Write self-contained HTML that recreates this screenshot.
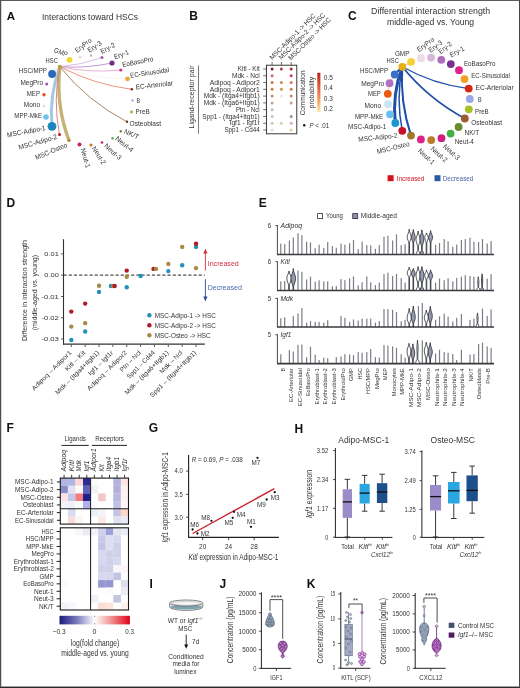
<!DOCTYPE html>
<html><head><meta charset="utf-8"><style>
html,body{margin:0;padding:0;background:#fff;}
svg{display:block;font-family:"Liberation Sans",sans-serif;will-change:transform;}
</style></head><body>
<svg width="520" height="688" viewBox="0 0 520 688">
<rect x="0" y="0" width="520" height="688" fill="#fff"/>
<g fill="#333">
<text x="6.80" y="20.00" font-size="11.5" fill="#111" font-weight="bold" class="t">A</text>
<text x="42.00" y="20.00" font-size="8.37" textLength="96.00" lengthAdjust="spacingAndGlyphs" class="t">Interactions toward HSCs</text>
<path d="M52.00,126.30 Q49.05,95.60 59.80,66.70" stroke="#a2c9e2" stroke-width="3.0" fill="none" stroke-opacity="1.0" stroke-linecap="butt"/>
<path d="M69.00,140.50 Q55.54,104.70 59.80,66.70" stroke="#c6b274" stroke-width="3.4" fill="none" stroke-opacity="1.0" stroke-linecap="butt"/>
<path d="M59.50,134.50 Q52.87,100.57 59.80,66.70" stroke="#de7474" stroke-width="0.9" fill="none" stroke-opacity="1.0" stroke-linecap="butt"/>
<path d="M102.00,57.50 Q81.54,65.05 59.80,66.70" stroke="#cfaede" stroke-width="0.8" fill="none" stroke-opacity="1.0" stroke-linecap="butt"/>
<path d="M112.00,63.00 Q86.16,68.50 59.80,66.70" stroke="#ba8ccc" stroke-width="0.9" fill="none" stroke-opacity="1.0" stroke-linecap="butt"/>
<path d="M120.80,70.00 Q90.04,73.23 59.80,66.70" stroke="#e49cc8" stroke-width="0.8" fill="none" stroke-opacity="1.0" stroke-linecap="butt"/>
<path d="M127.50,78.80 Q92.56,78.84 59.80,66.70" stroke="#f8e4d4" stroke-width="0.4" fill="none" stroke-opacity="1.0" stroke-linecap="butt"/>
<path d="M131.80,89.30 Q93.77,84.48 59.80,66.70" stroke="#e68a74" stroke-width="0.9" fill="none" stroke-opacity="1.0" stroke-linecap="butt"/>
<path d="M127.00,121.80 Q87.61,101.31 59.80,66.70" stroke="#9e7a5a" stroke-width="0.9" fill="none" stroke-opacity="1.0" stroke-linecap="butt"/>
<path d="M52.10,74.00 Q55.95,70.35 59.80,66.70" stroke="#b0c8e4" stroke-width="0.7" fill="none" stroke-opacity="1.0" stroke-linecap="butt"/>
<circle cx="59.80" cy="66.70" r="2.0" fill="#b5a040"/>
<circle cx="69.50" cy="59.80" r="2.9" fill="#f2d72a"/>
<circle cx="80.00" cy="57.00" r="1.6" fill="#ead8e6"/>
<circle cx="91.00" cy="55.50" r="1.2" fill="#c9a8cf"/>
<circle cx="102.00" cy="57.50" r="1.5" fill="#9a5aa6"/>
<circle cx="112.00" cy="63.00" r="2.6" fill="#7a2d88"/>
<circle cx="120.80" cy="70.00" r="1.6" fill="#d8208e"/>
<circle cx="127.50" cy="78.80" r="2.4" fill="#f0a43a"/>
<circle cx="131.80" cy="89.30" r="1.3" fill="#8a2a1a"/>
<circle cx="132.50" cy="100.50" r="1.2" fill="#a8a8e8"/>
<circle cx="131.50" cy="111.90" r="1.6" fill="#a8c044"/>
<circle cx="127.00" cy="121.80" r="1.2" fill="#5a3a22"/>
<circle cx="120.80" cy="131.30" r="1.2" fill="#5a8a3a"/>
<circle cx="112.50" cy="138.30" r="1.2" fill="#4aa84a"/>
<circle cx="102.00" cy="142.50" r="1.3" fill="#c0207a"/>
<circle cx="91.00" cy="145.00" r="1.6" fill="#c08030"/>
<circle cx="79.50" cy="144.50" r="2.0" fill="#c0206e"/>
<circle cx="69.00" cy="140.50" r="1.6" fill="#a08a30"/>
<circle cx="59.50" cy="134.50" r="1.5" fill="#c01020"/>
<circle cx="52.00" cy="126.30" r="4.4" fill="#1a86c0"/>
<circle cx="46.00" cy="117.00" r="2.8" fill="#6ec4ea"/>
<circle cx="44.00" cy="106.00" r="1.5" fill="#d4e4f2"/>
<circle cx="44.00" cy="94.80" r="1.7" fill="#e0502a"/>
<circle cx="46.70" cy="84.00" r="1.5" fill="#9a58b0"/>
<circle cx="52.10" cy="74.00" r="3.9" fill="#2a68b8"/>
<text x="45.60" y="63.10" font-size="7.0" textLength="12.30" lengthAdjust="spacingAndGlyphs" class="t">HSC</text>
<text x="53.40" y="52.00" font-size="7.0" textLength="14.00" lengthAdjust="spacingAndGlyphs" transform="rotate(20 53.40 52.00)" class="t">GMP</text>
<text x="18.80" y="72.90" font-size="7.0" textLength="28.20" lengthAdjust="spacingAndGlyphs" class="t">HSC/MPP</text>
<text x="20.50" y="84.70" font-size="7.0" textLength="22.50" lengthAdjust="spacingAndGlyphs" class="t">MegPro</text>
<text x="26.80" y="95.80" font-size="7.0" textLength="13.20" lengthAdjust="spacingAndGlyphs" class="t">MEP</text>
<text x="23.80" y="107.30" font-size="7.0" textLength="16.20" lengthAdjust="spacingAndGlyphs" class="t">Mono</text>
<text x="14.30" y="118.00" font-size="7.0" textLength="27.70" lengthAdjust="spacingAndGlyphs" class="t">MPP-MkE</text>
<text x="7.60" y="137.40" font-size="7.0" textLength="39.00" lengthAdjust="spacingAndGlyphs" transform="rotate(-11 7.60 137.40)" class="t">MSC-Adipo-1</text>
<text x="19.20" y="149.80" font-size="7.0" textLength="40.00" lengthAdjust="spacingAndGlyphs" transform="rotate(-16 19.20 149.80)" class="t">MSC-Adipo-2</text>
<text x="36.50" y="160.00" font-size="7.0" textLength="34.00" lengthAdjust="spacingAndGlyphs" transform="rotate(-23 36.50 160.00)" class="t">MSC-Osteo</text>
<text x="80.60" y="149.00" font-size="7.0" textLength="20.00" lengthAdjust="spacingAndGlyphs" transform="rotate(74 80.60 149.00)" class="t">Neut-1</text>
<text x="91.60" y="148.30" font-size="7.0" textLength="20.00" lengthAdjust="spacingAndGlyphs" transform="rotate(58 91.60 148.30)" class="t">Neut-2</text>
<text x="103.80" y="146.60" font-size="7.0" textLength="20.50" lengthAdjust="spacingAndGlyphs" transform="rotate(42 103.80 146.60)" class="t">Neut-3</text>
<text x="114.80" y="139.60" font-size="7.0" textLength="21.00" lengthAdjust="spacingAndGlyphs" transform="rotate(38 114.80 139.60)" class="t">Neut-4</text>
<text x="123.60" y="133.00" font-size="7.0" textLength="15.50" lengthAdjust="spacingAndGlyphs" transform="rotate(25 123.60 133.00)" class="t">NK/T</text>
<text x="129.60" y="125.70" font-size="7.0" textLength="31.50" lengthAdjust="spacingAndGlyphs" transform="rotate(0 129.60 125.70)" class="t">Osteoblast</text>
<text x="135.60" y="114.20" font-size="7.0" textLength="14.00" lengthAdjust="spacingAndGlyphs" transform="rotate(0 135.60 114.20)" class="t">PreB</text>
<text x="136.50" y="102.60" font-size="7.0" textLength="3.50" lengthAdjust="spacingAndGlyphs" transform="rotate(0 136.50 102.60)" class="t">B</text>
<text x="136.00" y="89.50" font-size="7.0" textLength="37.40" lengthAdjust="spacingAndGlyphs" transform="rotate(-6.5 136.00 89.50)" class="t">EC-Arteriolar</text>
<text x="130.60" y="77.80" font-size="7.0" textLength="39.20" lengthAdjust="spacingAndGlyphs" transform="rotate(-8.5 130.60 77.80)" class="t">EC-Sinusoidal</text>
<text x="122.80" y="67.10" font-size="7.0" textLength="31.50" lengthAdjust="spacingAndGlyphs" transform="rotate(-11 122.80 67.10)" class="t">EoBasoPro</text>
<text x="115.00" y="59.60" font-size="7.0" textLength="15.50" lengthAdjust="spacingAndGlyphs" transform="rotate(-21 115.00 59.60)" class="t">Ery-1</text>
<text x="102.00" y="54.00" font-size="7.0" textLength="15.50" lengthAdjust="spacingAndGlyphs" transform="rotate(-29 102.00 54.00)" class="t">Ery-2</text>
<text x="89.50" y="52.80" font-size="7.0" textLength="15.50" lengthAdjust="spacingAndGlyphs" transform="rotate(-34 89.50 52.80)" class="t">Ery-3</text>
<text x="77.30" y="53.00" font-size="7.0" textLength="18.80" lengthAdjust="spacingAndGlyphs" transform="rotate(-38 77.30 53.00)" class="t">EryPro</text>
<text x="189.20" y="19.60" font-size="12.0" fill="#111" font-weight="bold" class="t">B</text>
<text x="259.70" y="71.20" font-size="6.57" text-anchor="end" textLength="21.90" lengthAdjust="spacingAndGlyphs" class="t">Kitl - Kit</text>
<line x1="263.20" y1="69.00" x2="266.40" y2="69.00" stroke="#333" stroke-width="0.7"/>
<text x="259.70" y="77.98" font-size="6.57" text-anchor="end" textLength="27.70" lengthAdjust="spacingAndGlyphs" class="t">Mdk - Ncl</text>
<line x1="263.20" y1="75.78" x2="266.40" y2="75.78" stroke="#333" stroke-width="0.7"/>
<text x="259.70" y="84.76" font-size="6.57" text-anchor="end" textLength="50.00" lengthAdjust="spacingAndGlyphs" class="t">Adipoq - Adipor2</text>
<line x1="263.20" y1="82.56" x2="266.40" y2="82.56" stroke="#333" stroke-width="0.7"/>
<text x="259.70" y="91.54" font-size="6.57" text-anchor="end" textLength="50.00" lengthAdjust="spacingAndGlyphs" class="t">Adipoq - Adipor1</text>
<line x1="263.20" y1="89.34" x2="266.40" y2="89.34" stroke="#333" stroke-width="0.7"/>
<text x="259.70" y="98.32" font-size="6.57" text-anchor="end" textLength="56.00" lengthAdjust="spacingAndGlyphs" class="t">Mdk - (Itga4+Itgb1)</text>
<line x1="263.20" y1="96.12" x2="266.40" y2="96.12" stroke="#333" stroke-width="0.7"/>
<text x="259.70" y="105.10" font-size="6.57" text-anchor="end" textLength="56.00" lengthAdjust="spacingAndGlyphs" class="t">Mdk - (Itga6+Itgb1)</text>
<line x1="263.20" y1="102.90" x2="266.40" y2="102.90" stroke="#333" stroke-width="0.7"/>
<text x="259.70" y="111.88" font-size="6.57" text-anchor="end" textLength="23.70" lengthAdjust="spacingAndGlyphs" class="t">Ptn - Ncl</text>
<line x1="263.20" y1="109.68" x2="266.40" y2="109.68" stroke="#333" stroke-width="0.7"/>
<text x="259.70" y="118.66" font-size="6.57" text-anchor="end" textLength="57.40" lengthAdjust="spacingAndGlyphs" class="t">Spp1 - (Itga4+Itgb1)</text>
<line x1="263.20" y1="116.46" x2="266.40" y2="116.46" stroke="#333" stroke-width="0.7"/>
<text x="259.70" y="125.44" font-size="6.57" text-anchor="end" textLength="30.10" lengthAdjust="spacingAndGlyphs" class="t">Igf1 - Igf1r</text>
<line x1="263.20" y1="123.24" x2="266.40" y2="123.24" stroke="#333" stroke-width="0.7"/>
<text x="259.70" y="132.22" font-size="6.57" text-anchor="end" textLength="35.30" lengthAdjust="spacingAndGlyphs" class="t">Spp1 - Cd44</text>
<line x1="263.20" y1="130.02" x2="266.40" y2="130.02" stroke="#333" stroke-width="0.7"/>
<rect x="266.40" y="65.20" width="30.40" height="68.60" fill="#fff" stroke="#222" stroke-width="0.9"/>
<line x1="272.10" y1="62.00" x2="272.10" y2="65.20" stroke="#333" stroke-width="0.7"/>
<line x1="281.40" y1="62.00" x2="281.40" y2="65.20" stroke="#333" stroke-width="0.7"/>
<line x1="291.20" y1="62.00" x2="291.20" y2="65.20" stroke="#333" stroke-width="0.7"/>
<circle cx="272.10" cy="69.00" r="1.5" fill="#8e1a2c"/>
<circle cx="272.10" cy="75.78" r="1.5" fill="#c27262"/>
<circle cx="272.10" cy="82.56" r="1.5" fill="#c47a4a"/>
<circle cx="272.10" cy="89.34" r="1.5" fill="#c8824a"/>
<circle cx="272.10" cy="96.12" r="1.5" fill="#c29072"/>
<circle cx="272.10" cy="102.90" r="1.5" fill="#c4a292"/>
<circle cx="272.10" cy="109.68" r="1.5" fill="#d2b4a4"/>
<circle cx="272.10" cy="116.46" r="1.5" fill="#d4c4a2"/>
<circle cx="272.10" cy="123.24" r="1.5" fill="#dac4a4"/>
<circle cx="272.10" cy="130.02" r="1.5" fill="#dce2c4"/>
<circle cx="281.40" cy="69.00" r="1.5" fill="#c23248"/>
<circle cx="281.40" cy="82.56" r="1.5" fill="#ca8a52"/>
<circle cx="281.40" cy="89.34" r="1.5" fill="#d29252"/>
<circle cx="281.40" cy="96.12" r="1.5" fill="#f4e6d8"/>
<circle cx="281.40" cy="123.24" r="1.5" fill="#dad2b2"/>
<circle cx="291.20" cy="69.00" r="1.5" fill="#ba2232"/>
<circle cx="291.20" cy="75.78" r="1.5" fill="#d2365e"/>
<circle cx="291.20" cy="82.56" r="1.5" fill="#d87a5a"/>
<circle cx="291.20" cy="89.34" r="1.5" fill="#da7a52"/>
<circle cx="291.20" cy="96.12" r="1.5" fill="#ca8a6a"/>
<circle cx="291.20" cy="102.90" r="1.5" fill="#b4a4a4"/>
<circle cx="291.20" cy="116.46" r="1.5" fill="#a49484"/>
<circle cx="291.20" cy="123.24" r="1.5" fill="#d2b4aa"/>
<circle cx="291.20" cy="130.02" r="1.5" fill="#e2caaa"/>
<text x="272.30" y="60.00" font-size="6.68" textLength="62.00" lengthAdjust="spacingAndGlyphs" transform="rotate(-45 272.30 60.00)" class="t">MSC-Adipo-1 -&gt; HSC</text>
<text x="281.30" y="60.00" font-size="6.68" textLength="62.80" lengthAdjust="spacingAndGlyphs" transform="rotate(-45 281.30 60.00)" class="t">MSC-Adipo-2 -&gt; HSC</text>
<text x="291.10" y="60.60" font-size="6.68" textLength="57.00" lengthAdjust="spacingAndGlyphs" transform="rotate(-45 291.10 60.60)" class="t">MSC-Osteo -&gt; HSC</text>
<line x1="198.50" y1="65.40" x2="198.50" y2="133.70" stroke="#555" stroke-width="0.8"/>
<text x="194.20" y="97.00" font-size="6.78" text-anchor="middle" textLength="63.00" lengthAdjust="spacingAndGlyphs" transform="rotate(-90 194.20 97.00)" class="t">Ligand-receptor pair</text>
<defs><linearGradient id="gB" x1="0" y1="0" x2="0" y2="1"><stop offset="0" stop-color="#c41e1e"/><stop offset="0.35" stop-color="#e05a3a"/><stop offset="0.7" stop-color="#f0a060"/><stop offset="1" stop-color="#fbe4a8"/></linearGradient></defs>
<rect x="317.30" y="72.80" width="3.10" height="39.10" fill="url(#gB)"/>
<text x="323.80" y="79.60" font-size="6.89" textLength="9.00" lengthAdjust="spacingAndGlyphs" class="t">0.5</text>
<text x="323.80" y="90.20" font-size="6.89" textLength="9.00" lengthAdjust="spacingAndGlyphs" class="t">0.4</text>
<text x="323.80" y="100.80" font-size="6.89" textLength="9.00" lengthAdjust="spacingAndGlyphs" class="t">0.3</text>
<text x="323.80" y="110.80" font-size="6.89" textLength="9.00" lengthAdjust="spacingAndGlyphs" class="t">0.2</text>
<text x="305.00" y="92.90" font-size="6.78" text-anchor="middle" textLength="44.80" lengthAdjust="spacingAndGlyphs" transform="rotate(-90 305.00 92.90)" class="t">Communication</text>
<text x="313.90" y="92.60" font-size="6.78" text-anchor="middle" textLength="31.80" lengthAdjust="spacingAndGlyphs" transform="rotate(-90 313.90 92.60)" class="t">probability</text>
<circle cx="304.20" cy="125.30" r="1.2" fill="#111"/>
<text x="309.4" y="127.6" font-size="6.78" fill="#333" textLength="19.7" lengthAdjust="spacingAndGlyphs"><tspan font-style="italic">P</tspan> &lt; .01</text>
<text x="348.00" y="19.60" font-size="12.0" fill="#111" font-weight="bold" class="t">C</text>
<text x="371.10" y="13.60" font-size="8.69" textLength="119.10" lengthAdjust="spacingAndGlyphs" class="t">Differential interaction strength</text>
<text x="387.00" y="24.60" font-size="8.69" textLength="87.10" lengthAdjust="spacingAndGlyphs" class="t">middle-aged vs. Young</text>
<path d="M395.30,123.00 Q392.06,94.06 402.30,66.80" stroke="#1f4fa8" stroke-width="3.0" fill="none"/>
<path d="M402.30,130.80 Q395.90,98.80 402.30,66.80" stroke="#1f4fa8" stroke-width="1.5" fill="none"/>
<path d="M411.00,135.60 Q399.77,102.07 402.30,66.80" stroke="#1f4fa8" stroke-width="2.0" fill="none"/>
<path d="M468.70,88.60 Q433.32,84.34 402.30,66.80" stroke="#1f4fa8" stroke-width="1.25" fill="none"/>
<path d="M464.80,118.50 Q428.38,98.90 402.30,66.80" stroke="#1f4fa8" stroke-width="1.8" fill="none"/>
<path d="M394.70,74.50 Q398.50,70.65 402.30,66.80" stroke="#1f4fa8" stroke-width="2.0" fill="none"/>
<line x1="402.30" y1="66.80" x2="411.10" y2="61.80" stroke="#e08030" stroke-width="0.6"/>
<line x1="394.70" y1="74.50" x2="389.50" y2="83.20" stroke="#e07070" stroke-width="0.5"/>
<line x1="389.50" y1="83.20" x2="387.80" y2="93.80" stroke="#e07070" stroke-width="0.5"/>
<circle cx="402.30" cy="66.80" r="3.9" fill="#e6b012"/>
<circle cx="411.10" cy="61.80" r="3.9" fill="#f8d034"/>
<circle cx="421.00" cy="58.20" r="3.9" fill="#eedcea"/>
<circle cx="431.10" cy="57.60" r="3.9" fill="#d8b6dc"/>
<circle cx="441.30" cy="59.80" r="3.9" fill="#ad6cbe"/>
<circle cx="450.80" cy="64.10" r="3.9" fill="#7a3092"/>
<circle cx="459.00" cy="70.20" r="3.9" fill="#e0218c"/>
<circle cx="464.50" cy="79.10" r="3.9" fill="#f0a022"/>
<circle cx="468.70" cy="88.60" r="3.9" fill="#d82412"/>
<circle cx="469.80" cy="98.90" r="3.9" fill="#98a8e6"/>
<circle cx="468.80" cy="109.30" r="3.9" fill="#a8c024"/>
<circle cx="464.80" cy="118.50" r="3.9" fill="#a05a32"/>
<circle cx="458.60" cy="127.00" r="3.9" fill="#6a8a32"/>
<circle cx="450.60" cy="133.60" r="3.9" fill="#44b044"/>
<circle cx="441.50" cy="138.20" r="3.9" fill="#d0207c"/>
<circle cx="431.20" cy="140.10" r="3.9" fill="#ba7a28"/>
<circle cx="420.90" cy="139.40" r="3.9" fill="#e0208a"/>
<circle cx="411.00" cy="135.60" r="3.9" fill="#a07a26"/>
<circle cx="402.30" cy="130.80" r="3.9" fill="#c8102a"/>
<circle cx="395.30" cy="123.00" r="3.9" fill="#1898d2"/>
<circle cx="390.00" cy="114.30" r="3.9" fill="#68c0ec"/>
<circle cx="388.00" cy="104.20" r="3.9" fill="#cce6f6"/>
<circle cx="387.80" cy="93.80" r="3.9" fill="#e85a12"/>
<circle cx="389.50" cy="83.20" r="3.9" fill="#b070c8"/>
<circle cx="394.70" cy="74.50" r="3.9" fill="#3a70c8"/>
<text x="394.90" y="55.60" font-size="7.0" textLength="14.60" lengthAdjust="spacingAndGlyphs" class="t">GMP</text>
<text x="386.60" y="62.80" font-size="7.0" textLength="12.30" lengthAdjust="spacingAndGlyphs" class="t">HSC</text>
<text x="360.00" y="73.00" font-size="7.0" textLength="28.00" lengthAdjust="spacingAndGlyphs" class="t">HSC/MPP</text>
<text x="361.20" y="85.60" font-size="7.0" textLength="23.10" lengthAdjust="spacingAndGlyphs" class="t">MegPro</text>
<text x="368.00" y="96.00" font-size="7.0" textLength="12.80" lengthAdjust="spacingAndGlyphs" class="t">MEP</text>
<text x="364.60" y="108.00" font-size="7.0" textLength="16.60" lengthAdjust="spacingAndGlyphs" class="t">Mono</text>
<text x="354.90" y="118.70" font-size="7.0" textLength="28.20" lengthAdjust="spacingAndGlyphs" class="t">MPP-MkE</text>
<text x="348.00" y="128.70" font-size="7.0" textLength="38.20" lengthAdjust="spacingAndGlyphs" class="t">MSC-Adipo-1</text>
<text x="463.90" y="66.30" font-size="7.0" textLength="31.70" lengthAdjust="spacingAndGlyphs" class="t">EoBasoPro</text>
<text x="471.30" y="77.90" font-size="7.0" textLength="38.50" lengthAdjust="spacingAndGlyphs" class="t">EC-Sinusoidal</text>
<text x="475.50" y="90.00" font-size="7.0" textLength="38.10" lengthAdjust="spacingAndGlyphs" class="t">EC-Arteriolar</text>
<text x="478.10" y="101.70" font-size="7.0" textLength="3.60" lengthAdjust="spacingAndGlyphs" class="t">B</text>
<text x="475.10" y="113.80" font-size="7.0" textLength="13.50" lengthAdjust="spacingAndGlyphs" class="t">PreB</text>
<text x="471.30" y="125.40" font-size="7.0" textLength="30.70" lengthAdjust="spacingAndGlyphs" class="t">Osteoblast</text>
<text x="464.50" y="134.50" font-size="7.0" textLength="14.80" lengthAdjust="spacingAndGlyphs" class="t">NK/T</text>
<text x="454.80" y="143.60" font-size="7.0" textLength="19.00" lengthAdjust="spacingAndGlyphs" class="t">Neut-4</text>
<text x="358.60" y="141.80" font-size="7.0" textLength="39.20" lengthAdjust="spacingAndGlyphs" transform="rotate(-6 358.60 141.80)" class="t">MSC-Adipo-2</text>
<text x="377.40" y="154.00" font-size="7.0" textLength="33.50" lengthAdjust="spacingAndGlyphs" transform="rotate(-14 377.40 154.00)" class="t">MSC-Osteo</text>
<text x="419.00" y="52.20" font-size="7.0" textLength="19.70" lengthAdjust="spacingAndGlyphs" transform="rotate(-36 419.00 52.20)" class="t">EryPro</text>
<text x="430.40" y="52.70" font-size="7.0" textLength="15.50" lengthAdjust="spacingAndGlyphs" transform="rotate(-36 430.40 52.70)" class="t">Ery-3</text>
<text x="440.80" y="54.20" font-size="7.0" textLength="15.00" lengthAdjust="spacingAndGlyphs" transform="rotate(-39 440.80 54.20)" class="t">Ery-2</text>
<text x="451.20" y="57.40" font-size="7.0" textLength="15.50" lengthAdjust="spacingAndGlyphs" transform="rotate(-28 451.20 57.40)" class="t">Ery-1</text>
<text x="417.40" y="151.60" font-size="7.0" textLength="19.80" lengthAdjust="spacingAndGlyphs" transform="rotate(42 417.40 151.60)" class="t">Neut-1</text>
<text x="430.20" y="149.40" font-size="7.0" textLength="19.80" lengthAdjust="spacingAndGlyphs" transform="rotate(42 430.20 149.40)" class="t">Neut-2</text>
<text x="442.60" y="147.20" font-size="7.0" textLength="19.80" lengthAdjust="spacingAndGlyphs" transform="rotate(42 442.60 147.20)" class="t">Neut-3</text>
<rect x="387.60" y="175.20" width="6.00" height="6.00" fill="#d8101e"/>
<text x="396.80" y="180.60" font-size="7.63" fill="#d0101e" textLength="27.50" lengthAdjust="spacingAndGlyphs" class="t">Increased</text>
<rect x="434.50" y="175.20" width="6.00" height="6.00" fill="#2a5aa2"/>
<text x="442.80" y="180.60" font-size="7.63" fill="#4a64a2" textLength="30.50" lengthAdjust="spacingAndGlyphs" class="t">Decreased</text>
<text x="6.60" y="206.80" font-size="12.0" fill="#111" font-weight="bold" class="t">D</text>
<line x1="63.50" y1="239.20" x2="63.50" y2="344.60" stroke="#333" stroke-width="1.1"/>
<line x1="63.00" y1="344.10" x2="204.80" y2="344.10" stroke="#333" stroke-width="1.2"/>
<line x1="61.00" y1="253.90" x2="63.50" y2="253.90" stroke="#333" stroke-width="0.8"/>
<text x="58.80" y="255.90" font-size="6.15" text-anchor="end" textLength="14.50" lengthAdjust="spacingAndGlyphs" class="t">0.01</text>
<line x1="61.00" y1="275.10" x2="63.50" y2="275.10" stroke="#333" stroke-width="0.8"/>
<text x="58.80" y="277.10" font-size="6.15" text-anchor="end" textLength="14.50" lengthAdjust="spacingAndGlyphs" class="t">0.00</text>
<line x1="61.00" y1="296.50" x2="63.50" y2="296.50" stroke="#333" stroke-width="0.8"/>
<text x="58.80" y="298.50" font-size="6.15" text-anchor="end" textLength="17.40" lengthAdjust="spacingAndGlyphs" class="t">-0.01</text>
<line x1="61.00" y1="317.80" x2="63.50" y2="317.80" stroke="#333" stroke-width="0.8"/>
<text x="58.80" y="319.80" font-size="6.15" text-anchor="end" textLength="17.40" lengthAdjust="spacingAndGlyphs" class="t">-0.02</text>
<line x1="61.00" y1="339.00" x2="63.50" y2="339.00" stroke="#333" stroke-width="0.8"/>
<text x="58.80" y="341.00" font-size="6.15" text-anchor="end" textLength="17.40" lengthAdjust="spacingAndGlyphs" class="t">-0.03</text>
<line x1="63.50" y1="275.10" x2="204.80" y2="275.10" stroke="#222" stroke-width="1.0" stroke-dasharray="3.2,2.0"/>
<line x1="71.30" y1="344.60" x2="71.30" y2="347.00" stroke="#333" stroke-width="0.8"/>
<line x1="85.16" y1="344.60" x2="85.16" y2="347.00" stroke="#333" stroke-width="0.8"/>
<line x1="99.02" y1="344.60" x2="99.02" y2="347.00" stroke="#333" stroke-width="0.8"/>
<line x1="112.88" y1="344.60" x2="112.88" y2="347.00" stroke="#333" stroke-width="0.8"/>
<line x1="126.74" y1="344.60" x2="126.74" y2="347.00" stroke="#333" stroke-width="0.8"/>
<line x1="140.60" y1="344.60" x2="140.60" y2="347.00" stroke="#333" stroke-width="0.8"/>
<line x1="154.46" y1="344.60" x2="154.46" y2="347.00" stroke="#333" stroke-width="0.8"/>
<line x1="168.32" y1="344.60" x2="168.32" y2="347.00" stroke="#333" stroke-width="0.8"/>
<line x1="182.18" y1="344.60" x2="182.18" y2="347.00" stroke="#333" stroke-width="0.8"/>
<line x1="196.04" y1="344.60" x2="196.04" y2="347.00" stroke="#333" stroke-width="0.8"/>
<circle cx="71.30" cy="311.60" r="2.2" fill="#b01a2a"/>
<circle cx="71.30" cy="326.60" r="2.2" fill="#a88a44"/>
<circle cx="71.30" cy="340.00" r="2.2" fill="#2590ba"/>
<circle cx="85.16" cy="303.60" r="2.2" fill="#b01a2a"/>
<circle cx="85.16" cy="323.10" r="2.2" fill="#a88a44"/>
<circle cx="85.16" cy="331.50" r="2.2" fill="#2590ba"/>
<circle cx="99.02" cy="285.70" r="2.2" fill="#a88a44"/>
<circle cx="99.02" cy="291.90" r="2.2" fill="#2590ba"/>
<circle cx="110.90" cy="286.00" r="2.2" fill="#2590ba"/>
<circle cx="113.10" cy="286.00" r="2.2" fill="#a88a44"/>
<circle cx="114.70" cy="286.00" r="2.2" fill="#b01a2a"/>
<circle cx="126.74" cy="276.80" r="2.2" fill="#a88a44"/>
<circle cx="126.74" cy="270.60" r="2.2" fill="#b01a2a"/>
<circle cx="126.74" cy="287.20" r="2.2" fill="#2590ba"/>
<circle cx="140.60" cy="276.00" r="2.2" fill="#2590ba"/>
<circle cx="153.50" cy="268.90" r="2.2" fill="#b01a2a"/>
<circle cx="156.00" cy="268.90" r="2.2" fill="#a88a44"/>
<circle cx="168.32" cy="263.90" r="2.2" fill="#a88a44"/>
<circle cx="168.32" cy="271.10" r="2.2" fill="#2590ba"/>
<circle cx="182.18" cy="246.90" r="2.2" fill="#a88a44"/>
<circle cx="182.18" cy="265.20" r="2.2" fill="#2590ba"/>
<circle cx="196.04" cy="246.90" r="2.2" fill="#2590ba"/>
<circle cx="196.04" cy="243.70" r="2.2" fill="#b01a2a"/>
<circle cx="196.04" cy="268.10" r="2.2" fill="#a88a44"/>
<text x="72.00" y="353.10" font-size="6.36" text-anchor="end" textLength="53.50" lengthAdjust="spacingAndGlyphs" transform="rotate(-45 72.00 353.10)" class="t">Adipoq – Adipor1</text>
<text x="85.86" y="353.10" font-size="6.36" text-anchor="end" textLength="26.00" lengthAdjust="spacingAndGlyphs" transform="rotate(-45 85.86 353.10)" class="t">Kitl – Kit</text>
<text x="99.72" y="353.10" font-size="6.36" text-anchor="end" textLength="59.20" lengthAdjust="spacingAndGlyphs" transform="rotate(-45 99.72 353.10)" class="t">Mdk – (Itga4+Itgb1)</text>
<text x="113.58" y="353.10" font-size="6.36" text-anchor="end" textLength="32.50" lengthAdjust="spacingAndGlyphs" transform="rotate(-45 113.58 353.10)" class="t">Igf1 – Igf1r</text>
<text x="127.44" y="353.10" font-size="6.36" text-anchor="end" textLength="53.50" lengthAdjust="spacingAndGlyphs" transform="rotate(-45 127.44 353.10)" class="t">Adipoq – Adipor2</text>
<text x="141.30" y="353.10" font-size="6.36" text-anchor="end" textLength="27.00" lengthAdjust="spacingAndGlyphs" transform="rotate(-45 141.30 353.10)" class="t">Ptn – Ncl</text>
<text x="155.16" y="353.10" font-size="6.36" text-anchor="end" textLength="36.50" lengthAdjust="spacingAndGlyphs" transform="rotate(-45 155.16 353.10)" class="t">Spp1 – Cd44</text>
<text x="169.02" y="353.10" font-size="6.36" text-anchor="end" textLength="59.20" lengthAdjust="spacingAndGlyphs" transform="rotate(-45 169.02 353.10)" class="t">Mdk – (Itga6+Itgb1)</text>
<text x="182.88" y="353.10" font-size="6.36" text-anchor="end" textLength="29.50" lengthAdjust="spacingAndGlyphs" transform="rotate(-45 182.88 353.10)" class="t">Mdk – Ncl</text>
<text x="196.74" y="353.10" font-size="6.36" text-anchor="end" textLength="63.00" lengthAdjust="spacingAndGlyphs" transform="rotate(-45 196.74 353.10)" class="t">Spp1 – (Itga4+Itgb1)</text>
<text x="26.60" y="290.60" font-size="7.0" text-anchor="middle" textLength="101.00" lengthAdjust="spacingAndGlyphs" transform="rotate(-90 26.60 290.60)" class="t">Difference in interaction strength</text>
<text x="37.40" y="292.60" font-size="7.0" text-anchor="middle" textLength="75.30" lengthAdjust="spacingAndGlyphs" transform="rotate(-90 37.40 292.60)" class="t">(middle-aged vs. young)</text>
<line x1="205.40" y1="270.60" x2="205.40" y2="251.50" stroke="#d0303e" stroke-width="0.9"/>
<path d="M203.3,253.4 L205.4,248.4 L207.5,253.4 Z" stroke="none" stroke-width="1" fill="#d0303e"/>
<line x1="205.40" y1="279.20" x2="205.40" y2="298.00" stroke="#2a4f9a" stroke-width="0.9"/>
<path d="M203.3,296.4 L205.4,301.4 L207.5,296.4 Z" stroke="none" stroke-width="1" fill="#2a4f9a"/>
<text x="207.70" y="266.00" font-size="7.63" fill="#d0303e" textLength="31.10" lengthAdjust="spacingAndGlyphs" class="t">Increased</text>
<text x="207.70" y="289.80" font-size="7.63" fill="#4a6ab0" textLength="34.20" lengthAdjust="spacingAndGlyphs" class="t">Decreased</text>
<circle cx="149.40" cy="315.30" r="2.2" fill="#2590ba"/>
<text x="154.80" y="317.70" font-size="7.21" textLength="61.00" lengthAdjust="spacingAndGlyphs" class="t">MSC-Adipo-1 -&gt; HSC</text>
<circle cx="149.40" cy="325.30" r="2.2" fill="#b01a2a"/>
<text x="154.80" y="327.70" font-size="7.21" textLength="61.00" lengthAdjust="spacingAndGlyphs" class="t">MSC-Adipo-2 -&gt; HSC</text>
<circle cx="149.40" cy="335.30" r="2.2" fill="#a88a44"/>
<text x="154.80" y="337.70" font-size="7.21" textLength="55.80" lengthAdjust="spacingAndGlyphs" class="t">MSC-Osteo -&gt; HSC</text>
<text x="258.80" y="206.60" font-size="12.0" fill="#111" font-weight="bold" class="t">E</text>
<rect x="317.60" y="213.60" width="5.00" height="5.00" fill="#fff" stroke="#333" stroke-width="0.8"/>
<text x="326.10" y="218.40" font-size="7.31" textLength="16.80" lengthAdjust="spacingAndGlyphs" class="t">Young</text>
<rect x="352.70" y="213.60" width="5.00" height="5.00" fill="#8a8ea6" stroke="#333" stroke-width="0.8"/>
<text x="360.70" y="218.40" font-size="7.31" textLength="36.20" lengthAdjust="spacingAndGlyphs" class="t">Middle-aged</text>
<line x1="277.40" y1="225.00" x2="277.40" y2="254.50" stroke="#333" stroke-width="0.9"/>
<line x1="275.40" y1="225.50" x2="277.40" y2="225.50" stroke="#333" stroke-width="0.8"/>
<text x="271.20" y="227.80" font-size="7.0" text-anchor="end" textLength="3.40" lengthAdjust="spacingAndGlyphs" class="t">6</text>
<text x="280.60" y="227.60" font-size="6.68" font-style="italic" textLength="21.50" lengthAdjust="spacingAndGlyphs" class="t">Adipoq</text>
<rect x="280.20" y="243.60" width="1.20" height="10.90" fill="#7c7e86"/>
<rect x="284.10" y="244.10" width="1.20" height="10.40" fill="#7c7e86"/>
<rect x="288.80" y="240.50" width="1.20" height="14.00" fill="#7c7e86"/>
<rect x="292.70" y="237.50" width="1.20" height="17.00" fill="#7c7e86"/>
<rect x="297.40" y="233.20" width="1.20" height="21.30" fill="#7c7e86"/>
<rect x="301.30" y="235.20" width="1.20" height="19.30" fill="#7c7e86"/>
<rect x="306.00" y="241.60" width="1.20" height="12.90" fill="#7c7e86"/>
<rect x="309.90" y="242.40" width="1.20" height="12.10" fill="#7c7e86"/>
<rect x="314.60" y="248.20" width="1.20" height="6.30" fill="#7c7e86"/>
<rect x="318.50" y="244.70" width="1.20" height="9.80" fill="#7c7e86"/>
<rect x="323.20" y="247.80" width="1.20" height="6.70" fill="#7c7e86"/>
<rect x="327.10" y="242.10" width="1.20" height="12.40" fill="#7c7e86"/>
<rect x="331.80" y="246.10" width="1.20" height="8.40" fill="#7c7e86"/>
<rect x="335.70" y="247.80" width="1.20" height="6.70" fill="#7c7e86"/>
<rect x="340.40" y="243.60" width="1.20" height="10.90" fill="#7c7e86"/>
<rect x="344.30" y="244.70" width="1.20" height="9.80" fill="#7c7e86"/>
<rect x="349.00" y="243.20" width="1.20" height="11.30" fill="#7c7e86"/>
<rect x="352.90" y="240.10" width="1.20" height="14.40" fill="#7c7e86"/>
<rect x="357.60" y="249.10" width="1.20" height="5.40" fill="#7c7e86"/>
<rect x="361.50" y="241.60" width="1.20" height="12.90" fill="#7c7e86"/>
<rect x="366.20" y="245.10" width="1.20" height="9.40" fill="#7c7e86"/>
<rect x="370.10" y="245.30" width="1.20" height="9.20" fill="#7c7e86"/>
<rect x="374.80" y="248.80" width="1.20" height="5.70" fill="#7c7e86"/>
<rect x="378.70" y="245.10" width="1.20" height="9.40" fill="#7c7e86"/>
<rect x="383.40" y="236.70" width="1.20" height="17.80" fill="#7c7e86"/>
<rect x="387.30" y="235.80" width="1.20" height="18.70" fill="#7c7e86"/>
<rect x="392.00" y="240.50" width="1.20" height="14.00" fill="#7c7e86"/>
<rect x="395.90" y="234.40" width="1.20" height="20.10" fill="#7c7e86"/>
<rect x="400.60" y="245.10" width="1.20" height="9.40" fill="#7c7e86"/>
<rect x="404.50" y="244.20" width="1.20" height="10.30" fill="#7c7e86"/>
<rect x="435.00" y="244.80" width="1.20" height="9.70" fill="#7c7e86"/>
<rect x="438.90" y="243.10" width="1.20" height="11.40" fill="#7c7e86"/>
<rect x="443.60" y="239.10" width="1.20" height="15.40" fill="#7c7e86"/>
<rect x="447.50" y="241.40" width="1.20" height="13.10" fill="#7c7e86"/>
<rect x="452.20" y="246.70" width="1.20" height="7.80" fill="#7c7e86"/>
<rect x="456.10" y="244.60" width="1.20" height="9.90" fill="#7c7e86"/>
<rect x="460.80" y="240.00" width="1.20" height="14.50" fill="#7c7e86"/>
<rect x="464.70" y="239.10" width="1.20" height="15.40" fill="#7c7e86"/>
<rect x="469.40" y="237.70" width="1.20" height="16.80" fill="#7c7e86"/>
<rect x="473.30" y="241.70" width="1.20" height="12.80" fill="#7c7e86"/>
<rect x="478.00" y="242.10" width="1.20" height="12.40" fill="#7c7e86"/>
<rect x="481.90" y="239.10" width="1.20" height="15.40" fill="#7c7e86"/>
<rect x="486.60" y="243.50" width="1.20" height="11.00" fill="#7c7e86"/>
<rect x="490.50" y="241.10" width="1.20" height="13.40" fill="#7c7e86"/>
<line x1="277.00" y1="254.50" x2="494.00" y2="254.50" stroke="#3a3a3e" stroke-width="1.7"/>
<line x1="277.40" y1="261.20" x2="277.40" y2="290.50" stroke="#333" stroke-width="0.9"/>
<line x1="275.40" y1="261.70" x2="277.40" y2="261.70" stroke="#333" stroke-width="0.8"/>
<text x="271.20" y="264.00" font-size="7.0" text-anchor="end" textLength="3.40" lengthAdjust="spacingAndGlyphs" class="t">6</text>
<text x="280.60" y="263.80" font-size="6.68" font-style="italic" textLength="9.20" lengthAdjust="spacingAndGlyphs" class="t">Kitl</text>
<rect x="280.20" y="281.30" width="1.20" height="9.20" fill="#7c7e86"/>
<rect x="284.10" y="280.90" width="1.20" height="9.60" fill="#7c7e86"/>
<rect x="297.40" y="270.40" width="1.20" height="20.10" fill="#7c7e86"/>
<rect x="301.30" y="271.80" width="1.20" height="18.70" fill="#7c7e86"/>
<rect x="306.00" y="279.50" width="1.20" height="11.00" fill="#7c7e86"/>
<rect x="309.90" y="276.60" width="1.20" height="13.90" fill="#7c7e86"/>
<rect x="314.60" y="281.70" width="1.20" height="8.80" fill="#7c7e86"/>
<rect x="318.50" y="280.30" width="1.20" height="10.20" fill="#7c7e86"/>
<rect x="323.20" y="281.30" width="1.20" height="9.20" fill="#7c7e86"/>
<rect x="327.10" y="281.30" width="1.20" height="9.20" fill="#7c7e86"/>
<rect x="331.80" y="286.20" width="1.20" height="4.30" fill="#7c7e86"/>
<rect x="335.70" y="286.00" width="1.20" height="4.50" fill="#7c7e86"/>
<rect x="340.40" y="279.10" width="1.20" height="11.40" fill="#7c7e86"/>
<rect x="344.30" y="280.20" width="1.20" height="10.30" fill="#7c7e86"/>
<rect x="349.00" y="278.40" width="1.20" height="12.10" fill="#7c7e86"/>
<rect x="352.90" y="276.40" width="1.20" height="14.10" fill="#7c7e86"/>
<rect x="357.60" y="285.30" width="1.20" height="5.20" fill="#7c7e86"/>
<rect x="361.50" y="282.20" width="1.20" height="8.30" fill="#7c7e86"/>
<rect x="366.20" y="276.40" width="1.20" height="14.10" fill="#7c7e86"/>
<rect x="370.10" y="282.20" width="1.20" height="8.30" fill="#7c7e86"/>
<rect x="374.80" y="285.10" width="1.20" height="5.40" fill="#7c7e86"/>
<rect x="378.70" y="282.50" width="1.20" height="8.00" fill="#7c7e86"/>
<rect x="383.40" y="274.10" width="1.20" height="16.40" fill="#7c7e86"/>
<rect x="387.30" y="272.60" width="1.20" height="17.90" fill="#7c7e86"/>
<rect x="392.00" y="276.00" width="1.20" height="14.50" fill="#7c7e86"/>
<rect x="395.90" y="274.00" width="1.20" height="16.50" fill="#7c7e86"/>
<rect x="400.60" y="278.10" width="1.20" height="12.40" fill="#7c7e86"/>
<rect x="404.50" y="282.50" width="1.20" height="8.00" fill="#7c7e86"/>
<rect x="435.00" y="282.70" width="1.20" height="7.80" fill="#7c7e86"/>
<rect x="438.90" y="278.60" width="1.20" height="11.90" fill="#7c7e86"/>
<rect x="443.60" y="280.20" width="1.20" height="10.30" fill="#7c7e86"/>
<rect x="447.50" y="278.20" width="1.20" height="12.30" fill="#7c7e86"/>
<rect x="452.20" y="281.30" width="1.20" height="9.20" fill="#7c7e86"/>
<rect x="456.10" y="277.90" width="1.20" height="12.60" fill="#7c7e86"/>
<rect x="460.80" y="276.70" width="1.20" height="13.80" fill="#7c7e86"/>
<rect x="464.70" y="275.20" width="1.20" height="15.30" fill="#7c7e86"/>
<rect x="469.40" y="275.90" width="1.20" height="14.60" fill="#7c7e86"/>
<rect x="473.30" y="276.70" width="1.20" height="13.80" fill="#7c7e86"/>
<rect x="486.60" y="278.70" width="1.20" height="11.80" fill="#7c7e86"/>
<rect x="490.50" y="274.10" width="1.20" height="16.40" fill="#7c7e86"/>
<line x1="277.00" y1="290.50" x2="494.00" y2="290.50" stroke="#3a3a3e" stroke-width="1.7"/>
<line x1="277.40" y1="297.90" x2="277.40" y2="327.00" stroke="#333" stroke-width="0.9"/>
<line x1="275.40" y1="298.40" x2="277.40" y2="298.40" stroke="#333" stroke-width="0.8"/>
<text x="271.20" y="300.70" font-size="7.0" text-anchor="end" textLength="3.40" lengthAdjust="spacingAndGlyphs" class="t">5</text>
<text x="280.60" y="300.50" font-size="6.68" font-style="italic" textLength="12.50" lengthAdjust="spacingAndGlyphs" class="t">Mdk</text>
<rect x="280.20" y="318.30" width="1.20" height="8.70" fill="#7c7e86"/>
<rect x="284.10" y="317.30" width="1.20" height="9.70" fill="#7c7e86"/>
<rect x="292.70" y="316.20" width="1.20" height="10.80" fill="#7c7e86"/>
<rect x="297.40" y="313.30" width="1.20" height="13.70" fill="#7c7e86"/>
<rect x="301.30" y="307.90" width="1.20" height="19.10" fill="#7c7e86"/>
<rect x="306.00" y="322.60" width="1.20" height="4.40" fill="#7c7e86"/>
<rect x="309.90" y="321.20" width="1.20" height="5.80" fill="#7c7e86"/>
<rect x="314.60" y="321.90" width="1.20" height="5.10" fill="#7c7e86"/>
<rect x="318.50" y="321.90" width="1.20" height="5.10" fill="#7c7e86"/>
<rect x="323.20" y="322.60" width="1.20" height="4.40" fill="#7c7e86"/>
<rect x="327.10" y="320.20" width="1.20" height="6.80" fill="#7c7e86"/>
<rect x="340.40" y="316.00" width="1.20" height="11.00" fill="#7c7e86"/>
<rect x="344.30" y="317.80" width="1.20" height="9.20" fill="#7c7e86"/>
<rect x="349.00" y="321.80" width="1.20" height="5.20" fill="#7c7e86"/>
<rect x="352.90" y="319.50" width="1.20" height="7.50" fill="#7c7e86"/>
<rect x="357.60" y="320.60" width="1.20" height="6.40" fill="#7c7e86"/>
<rect x="361.50" y="318.60" width="1.20" height="8.40" fill="#7c7e86"/>
<rect x="366.20" y="318.60" width="1.20" height="8.40" fill="#7c7e86"/>
<rect x="370.10" y="318.60" width="1.20" height="8.40" fill="#7c7e86"/>
<rect x="374.80" y="322.50" width="1.20" height="4.50" fill="#7c7e86"/>
<rect x="378.70" y="321.00" width="1.20" height="6.00" fill="#7c7e86"/>
<rect x="383.40" y="309.10" width="1.20" height="17.90" fill="#7c7e86"/>
<rect x="387.30" y="309.10" width="1.20" height="17.90" fill="#7c7e86"/>
<rect x="392.00" y="309.80" width="1.20" height="17.20" fill="#7c7e86"/>
<rect x="395.90" y="312.10" width="1.20" height="14.90" fill="#7c7e86"/>
<rect x="400.60" y="321.30" width="1.20" height="5.70" fill="#7c7e86"/>
<rect x="404.50" y="319.80" width="1.20" height="7.20" fill="#7c7e86"/>
<rect x="417.80" y="306.00" width="1.20" height="21.00" fill="#7c7e86"/>
<rect x="421.70" y="303.10" width="1.20" height="23.90" fill="#7c7e86"/>
<rect x="435.00" y="319.80" width="1.20" height="7.20" fill="#7c7e86"/>
<rect x="438.90" y="316.30" width="1.20" height="10.70" fill="#7c7e86"/>
<rect x="443.60" y="313.70" width="1.20" height="13.30" fill="#7c7e86"/>
<rect x="447.50" y="316.70" width="1.20" height="10.30" fill="#7c7e86"/>
<rect x="452.20" y="321.50" width="1.20" height="5.50" fill="#7c7e86"/>
<rect x="456.10" y="317.80" width="1.20" height="9.20" fill="#7c7e86"/>
<rect x="460.80" y="314.00" width="1.20" height="13.00" fill="#7c7e86"/>
<rect x="469.40" y="319.80" width="1.20" height="7.20" fill="#7c7e86"/>
<rect x="473.30" y="318.60" width="1.20" height="8.40" fill="#7c7e86"/>
<rect x="481.90" y="308.60" width="1.20" height="18.40" fill="#7c7e86"/>
<rect x="486.60" y="315.80" width="1.20" height="11.20" fill="#7c7e86"/>
<rect x="490.50" y="309.40" width="1.20" height="17.60" fill="#7c7e86"/>
<line x1="277.00" y1="327.00" x2="494.00" y2="327.00" stroke="#3a3a3e" stroke-width="1.7"/>
<line x1="277.40" y1="334.20" x2="277.40" y2="363.60" stroke="#333" stroke-width="0.9"/>
<line x1="275.40" y1="334.70" x2="277.40" y2="334.70" stroke="#333" stroke-width="0.8"/>
<text x="271.20" y="337.00" font-size="7.0" text-anchor="end" textLength="3.40" lengthAdjust="spacingAndGlyphs" class="t">5</text>
<text x="280.60" y="336.80" font-size="6.68" font-style="italic" textLength="10.70" lengthAdjust="spacingAndGlyphs" class="t">Igf1</text>
<rect x="280.20" y="354.30" width="1.20" height="9.30" fill="#7c7e86"/>
<rect x="288.80" y="350.00" width="1.20" height="13.60" fill="#7c7e86"/>
<rect x="292.70" y="351.50" width="1.20" height="12.10" fill="#7c7e86"/>
<rect x="297.40" y="344.80" width="1.20" height="18.80" fill="#7c7e86"/>
<rect x="301.30" y="344.40" width="1.20" height="19.20" fill="#7c7e86"/>
<rect x="306.00" y="357.20" width="1.20" height="6.40" fill="#7c7e86"/>
<rect x="309.90" y="346.80" width="1.20" height="16.80" fill="#7c7e86"/>
<rect x="314.60" y="354.70" width="1.20" height="8.90" fill="#7c7e86"/>
<rect x="318.50" y="360.00" width="1.20" height="3.60" fill="#7c7e86"/>
<rect x="323.20" y="357.60" width="1.20" height="6.00" fill="#7c7e86"/>
<rect x="327.10" y="358.20" width="1.20" height="5.40" fill="#7c7e86"/>
<rect x="335.70" y="357.10" width="1.20" height="6.50" fill="#7c7e86"/>
<rect x="340.40" y="356.30" width="1.20" height="7.30" fill="#7c7e86"/>
<rect x="344.30" y="354.20" width="1.20" height="9.40" fill="#7c7e86"/>
<rect x="349.00" y="354.50" width="1.20" height="9.10" fill="#7c7e86"/>
<rect x="352.90" y="355.10" width="1.20" height="8.50" fill="#7c7e86"/>
<rect x="357.60" y="352.10" width="1.20" height="11.50" fill="#7c7e86"/>
<rect x="361.50" y="352.80" width="1.20" height="10.80" fill="#7c7e86"/>
<rect x="366.20" y="352.10" width="1.20" height="11.50" fill="#7c7e86"/>
<rect x="370.10" y="349.00" width="1.20" height="14.60" fill="#7c7e86"/>
<rect x="374.80" y="357.10" width="1.20" height="6.50" fill="#7c7e86"/>
<rect x="378.70" y="357.50" width="1.20" height="6.10" fill="#7c7e86"/>
<rect x="383.40" y="345.00" width="1.20" height="18.60" fill="#7c7e86"/>
<rect x="387.30" y="345.60" width="1.20" height="18.00" fill="#7c7e86"/>
<rect x="392.00" y="346.40" width="1.20" height="17.20" fill="#7c7e86"/>
<rect x="395.90" y="347.90" width="1.20" height="15.70" fill="#7c7e86"/>
<rect x="400.60" y="354.20" width="1.20" height="9.40" fill="#7c7e86"/>
<rect x="404.50" y="357.70" width="1.20" height="5.90" fill="#7c7e86"/>
<rect x="421.70" y="340.40" width="1.20" height="23.20" fill="#7c7e86"/>
<rect x="435.00" y="353.60" width="1.20" height="10.00" fill="#7c7e86"/>
<rect x="438.90" y="349.80" width="1.20" height="13.80" fill="#7c7e86"/>
<rect x="443.60" y="352.10" width="1.20" height="11.50" fill="#7c7e86"/>
<rect x="447.50" y="352.80" width="1.20" height="10.80" fill="#7c7e86"/>
<rect x="452.20" y="354.00" width="1.20" height="9.60" fill="#7c7e86"/>
<rect x="456.10" y="360.00" width="1.20" height="3.60" fill="#7c7e86"/>
<rect x="460.80" y="349.80" width="1.20" height="13.80" fill="#7c7e86"/>
<rect x="469.40" y="354.50" width="1.20" height="9.10" fill="#7c7e86"/>
<rect x="473.30" y="354.00" width="1.20" height="9.60" fill="#7c7e86"/>
<rect x="478.00" y="344.10" width="1.20" height="19.50" fill="#7c7e86"/>
<rect x="481.90" y="342.70" width="1.20" height="20.90" fill="#7c7e86"/>
<rect x="486.60" y="346.40" width="1.20" height="17.20" fill="#7c7e86"/>
<rect x="490.50" y="347.90" width="1.20" height="15.70" fill="#7c7e86"/>
<line x1="277.00" y1="363.60" x2="494.00" y2="363.60" stroke="#3a3a3e" stroke-width="1.7"/>
<path d="M409.20,229.20 C409.45,232.84 411.20,234.47 411.20,237.30 C411.20,239.58 409.55,241.29 409.50,243.00 L409.50,254.50 L408.90,254.50 L408.90,243.00 C408.85,241.29 407.20,239.58 407.20,237.30 C407.20,234.47 408.95,232.84 409.20,229.20 Z" stroke="#2a2c32" stroke-width="0.8" fill="#ffffff"/>
<path d="M413.30,229.50 C413.55,233.01 415.20,234.57 415.20,237.30 C415.20,239.58 413.65,241.29 413.60,243.00 L413.60,254.50 L413.00,254.50 L413.00,243.00 C412.95,241.29 411.40,239.58 411.40,237.30 C411.40,234.57 413.05,233.01 413.30,229.50 Z" stroke="#2a2c32" stroke-width="0.8" fill="#979bb0"/>
<path d="M418.10,231.00 C418.35,234.87 420.20,236.59 420.20,239.60 C420.20,242.56 418.45,244.78 418.40,247.00 L418.40,250.40 C419.70,251.40 419.70,254.50 419.06,254.50 L417.14,254.50 C416.50,254.50 416.50,251.40 417.80,250.40 L417.80,247.00 C417.75,244.78 416.00,242.56 416.00,239.60 C416.00,236.59 417.85,234.87 418.10,231.00 Z" stroke="#2a2c32" stroke-width="0.8" fill="#ffffff"/>
<path d="M421.90,229.80 C422.15,233.94 423.90,235.78 423.90,239.00 C423.90,242.20 422.25,244.60 422.20,247.00 L422.20,250.40 C423.50,251.40 423.50,254.50 422.86,254.50 L420.94,254.50 C420.30,254.50 420.30,251.40 421.60,250.40 L421.60,247.00 C421.55,244.60 419.90,242.20 419.90,239.00 C419.90,235.78 421.65,233.94 421.90,229.80 Z" stroke="#2a2c32" stroke-width="0.8" fill="#979bb0"/>
<path d="M426.50,232.90 C426.75,234.88 428.30,235.76 428.30,237.30 C428.30,239.58 426.85,241.29 426.80,243.00 L426.80,254.50 L426.20,254.50 L426.20,243.00 C426.15,241.29 424.70,239.58 424.70,237.30 C424.70,235.76 426.25,234.88 426.50,232.90 Z" stroke="#2a2c32" stroke-width="0.8" fill="#ffffff"/>
<path d="M430.60,230.60 C430.85,233.62 432.60,234.96 432.60,237.30 C432.60,239.58 430.95,241.29 430.90,243.00 L430.90,254.50 L430.30,254.50 L430.30,243.00 C430.25,241.29 428.60,239.58 428.60,237.30 C428.60,234.96 430.35,233.62 430.60,230.60 Z" stroke="#2a2c32" stroke-width="0.8" fill="#979bb0"/>
<path d="M289.00,271.00 C289.25,274.15 291.20,275.55 291.20,278.00 C291.20,281.20 289.35,283.60 289.30,286.00 L289.30,290.50 L288.70,290.50 L288.70,286.00 C288.65,283.60 286.80,281.20 286.80,278.00 C286.80,275.55 288.75,274.15 289.00,271.00 Z" stroke="#2a2c32" stroke-width="0.8" fill="#ffffff"/>
<path d="M293.30,268.50 C293.55,273.00 295.60,275.00 295.60,278.50 C295.60,281.90 293.65,284.45 293.60,287.00 L293.60,290.50 L293.00,290.50 L293.00,287.00 C292.95,284.45 291.00,281.90 291.00,278.50 C291.00,275.00 293.05,273.00 293.30,268.50 Z" stroke="#2a2c32" stroke-width="0.8" fill="#979bb0"/>
<path d="M409.20,267.10 C409.45,269.71 411.20,270.87 411.20,272.90 C411.20,274.74 409.55,276.12 409.50,277.50 L409.50,290.50 L408.90,290.50 L408.90,277.50 C408.85,276.12 407.20,274.74 407.20,272.90 C407.20,270.87 408.95,269.71 409.20,267.10 Z" stroke="#2a2c32" stroke-width="0.8" fill="#ffffff"/>
<path d="M413.30,268.30 C413.55,270.64 415.20,271.68 415.20,273.50 C415.20,275.30 413.65,276.65 413.60,278.00 L413.60,290.50 L413.00,290.50 L413.00,278.00 C412.95,276.65 411.40,275.30 411.40,273.50 C411.40,271.68 413.05,270.64 413.30,268.30 Z" stroke="#2a2c32" stroke-width="0.8" fill="#979bb0"/>
<path d="M418.10,266.50 C418.35,270.42 420.20,272.15 420.20,275.20 C420.20,278.72 418.45,281.36 418.40,284.00 L418.40,286.90 C419.90,287.90 419.90,290.50 419.18,290.50 L417.02,290.50 C416.30,290.50 416.30,287.90 417.80,286.90 L417.80,284.00 C417.75,281.36 416.00,278.72 416.00,275.20 C416.00,272.15 417.85,270.42 418.10,266.50 Z" stroke="#2a2c32" stroke-width="0.8" fill="#ffffff"/>
<path d="M421.90,266.50 C422.15,270.42 424.00,272.15 424.00,275.20 C424.00,278.72 422.25,281.36 422.20,284.00 L422.20,286.90 C423.70,287.90 423.70,290.50 422.98,290.50 L420.82,290.50 C420.10,290.50 420.10,287.90 421.60,286.90 L421.60,284.00 C421.55,281.36 419.80,278.72 419.80,275.20 C419.80,272.15 421.65,270.42 421.90,266.50 Z" stroke="#2a2c32" stroke-width="0.8" fill="#979bb0"/>
<path d="M426.50,269.80 C426.75,272.23 428.30,273.31 428.30,275.20 C428.30,277.12 426.85,278.56 426.80,280.00 L426.80,290.50 L426.20,290.50 L426.20,280.00 C426.15,278.56 424.70,277.12 424.70,275.20 C424.70,273.31 426.25,272.23 426.50,269.80 Z" stroke="#2a2c32" stroke-width="0.8" fill="#ffffff"/>
<path d="M430.60,269.80 C430.85,272.50 432.60,273.70 432.60,275.80 C432.60,277.88 430.95,279.44 430.90,281.00 L430.90,290.50 L430.30,290.50 L430.30,281.00 C430.25,279.44 428.60,277.88 428.60,275.80 C428.60,273.70 430.35,272.50 430.60,269.80 Z" stroke="#2a2c32" stroke-width="0.8" fill="#979bb0"/>
<path d="M478.30,276.70 C478.55,279.08 478.90,280.14 478.90,282.00 C478.90,283.60 478.65,284.80 478.60,286.00 L478.60,287.40 C479.90,288.40 479.90,290.50 479.26,290.50 L477.34,290.50 C476.70,290.50 476.70,288.40 478.00,287.40 L478.00,286.00 C477.95,284.80 477.70,283.60 477.70,282.00 C477.70,280.14 478.05,279.08 478.30,276.70 Z" stroke="#2a2c32" stroke-width="0.8" fill="#ffffff"/>
<path d="M482.10,273.80 C482.35,276.59 482.70,277.83 482.70,280.00 C482.70,282.40 482.45,284.20 482.40,286.00 L482.40,287.40 C483.70,288.40 483.70,290.50 483.06,290.50 L481.14,290.50 C480.50,290.50 480.50,288.40 481.80,287.40 L481.80,286.00 C481.75,284.20 481.50,282.40 481.50,280.00 C481.50,277.83 481.85,276.59 482.10,273.80 Z" stroke="#2a2c32" stroke-width="0.8" fill="#979bb0"/>
<path d="M409.20,308.30 C409.45,312.71 411.30,314.67 411.30,318.10 C411.30,320.62 409.55,322.51 409.50,324.40 L409.50,327.00 L408.90,327.00 L408.90,324.40 C408.85,322.51 407.10,320.62 407.10,318.10 C407.10,314.67 408.95,312.71 409.20,308.30 Z" stroke="#2a2c32" stroke-width="0.8" fill="#ffffff"/>
<path d="M413.30,306.00 C413.55,311.18 415.30,313.48 415.30,317.50 C415.30,320.10 413.65,322.05 413.60,324.00 L413.60,327.00 L413.00,327.00 L413.00,324.00 C412.95,322.05 411.30,320.10 411.30,317.50 C411.30,313.48 413.05,311.18 413.30,306.00 Z" stroke="#2a2c32" stroke-width="0.8" fill="#979bb0"/>
<path d="M426.30,310.00 C426.55,313.38 428.30,314.88 428.30,317.50 C428.30,320.10 426.65,322.05 426.60,324.00 L426.60,327.00 L426.00,327.00 L426.00,324.00 C425.95,322.05 424.30,320.10 424.30,317.50 C424.30,314.88 426.05,313.38 426.30,310.00 Z" stroke="#2a2c32" stroke-width="0.8" fill="#ffffff"/>
<path d="M430.30,306.30 C430.55,310.80 432.30,312.80 432.30,316.30 C432.30,319.38 430.65,321.69 430.60,324.00 L430.60,327.00 L430.00,327.00 L430.00,324.00 C429.95,321.69 428.30,319.38 428.30,316.30 C428.30,312.80 430.05,310.80 430.30,306.30 Z" stroke="#2a2c32" stroke-width="0.8" fill="#979bb0"/>
<path d="M477.50,312.90 C477.75,315.19 478.10,316.21 478.10,318.00 C478.10,319.60 477.85,320.80 477.80,322.00 L477.80,323.90 C478.90,324.90 478.90,327.00 478.34,327.00 L476.66,327.00 C476.10,327.00 476.10,324.90 477.20,323.90 L477.20,322.00 C477.15,320.80 476.90,319.60 476.90,318.00 C476.90,316.21 477.25,315.19 477.50,312.90 Z" stroke="#2a2c32" stroke-width="0.8" fill="#ffffff"/>
<path d="M409.00,343.30 C409.25,346.68 410.90,348.18 410.90,350.80 C410.90,354.48 409.35,357.24 409.30,360.00 L409.30,363.60 L408.70,363.60 L408.70,360.00 C408.65,357.24 407.10,354.48 407.10,350.80 C407.10,348.18 408.75,346.68 409.00,343.30 Z" stroke="#2a2c32" stroke-width="0.8" fill="#ffffff"/>
<path d="M412.90,343.80 C413.15,347.94 414.70,349.78 414.70,353.00 C414.70,356.20 413.25,358.60 413.20,361.00 L413.20,363.60 L412.60,363.60 L412.60,361.00 C412.55,358.60 411.10,356.20 411.10,353.00 C411.10,349.78 412.65,347.94 412.90,343.80 Z" stroke="#2a2c32" stroke-width="0.8" fill="#979bb0"/>
<path d="M417.50,340.20 C417.75,343.71 418.10,345.27 418.10,348.00 C418.10,351.20 417.85,353.60 417.80,356.00 L417.80,359.40 C419.40,360.40 419.40,363.60 418.64,363.60 L416.36,363.60 C415.60,363.60 415.60,360.40 417.20,359.40 L417.20,356.00 C417.15,353.60 416.90,351.20 416.90,348.00 C416.90,345.27 417.25,343.71 417.50,340.20 Z" stroke="#2a2c32" stroke-width="0.8" fill="#ffffff"/>
<path d="M426.30,342.10 C426.55,346.02 428.30,347.75 428.30,350.80 C428.30,354.08 426.65,356.54 426.60,359.00 L426.60,363.60 L426.00,363.60 L426.00,359.00 C425.95,356.54 424.30,354.08 424.30,350.80 C424.30,347.75 426.05,346.02 426.30,342.10 Z" stroke="#2a2c32" stroke-width="0.8" fill="#ffffff"/>
<path d="M430.20,342.70 C430.45,346.84 432.30,348.68 432.30,351.90 C432.30,355.14 430.55,357.57 430.50,360.00 L430.50,363.60 L429.90,363.60 L429.90,360.00 C429.85,357.57 428.10,355.14 428.10,351.90 C428.10,348.68 429.95,346.84 430.20,342.70 Z" stroke="#2a2c32" stroke-width="0.8" fill="#979bb0"/>
<text x="284.70" y="368.20" font-size="6.15" text-anchor="end" textLength="3.40" lengthAdjust="spacingAndGlyphs" transform="rotate(-90 284.70 368.20)" class="t">B</text>
<text x="293.25" y="368.20" font-size="6.15" text-anchor="end" textLength="33.70" lengthAdjust="spacingAndGlyphs" transform="rotate(-90 293.25 368.20)" class="t">EC-Arteriolar</text>
<text x="301.80" y="368.20" font-size="6.15" text-anchor="end" textLength="38.00" lengthAdjust="spacingAndGlyphs" transform="rotate(-90 301.80 368.20)" class="t">EC-Sinusoidal</text>
<text x="310.35" y="368.20" font-size="6.15" text-anchor="end" textLength="27.90" lengthAdjust="spacingAndGlyphs" transform="rotate(-90 310.35 368.20)" class="t">EoBasoPro</text>
<text x="318.90" y="368.20" font-size="6.15" text-anchor="end" textLength="36.30" lengthAdjust="spacingAndGlyphs" transform="rotate(-90 318.90 368.20)" class="t">Erythroblast-1</text>
<text x="327.45" y="368.20" font-size="6.15" text-anchor="end" textLength="36.30" lengthAdjust="spacingAndGlyphs" transform="rotate(-90 327.45 368.20)" class="t">Erythroblast-2</text>
<text x="336.00" y="368.20" font-size="6.15" text-anchor="end" textLength="36.30" lengthAdjust="spacingAndGlyphs" transform="rotate(-90 336.00 368.20)" class="t">Erythroblast-3</text>
<text x="344.55" y="368.20" font-size="6.15" text-anchor="end" textLength="32.40" lengthAdjust="spacingAndGlyphs" transform="rotate(-90 344.55 368.20)" class="t">ErythroidPro</text>
<text x="353.10" y="368.20" font-size="6.15" text-anchor="end" textLength="12.80" lengthAdjust="spacingAndGlyphs" transform="rotate(-90 353.10 368.20)" class="t">GMP</text>
<text x="361.65" y="368.20" font-size="6.15" text-anchor="end" textLength="11.40" lengthAdjust="spacingAndGlyphs" transform="rotate(-90 361.65 368.20)" class="t">HSC</text>
<text x="370.20" y="368.20" font-size="6.15" text-anchor="end" textLength="25.70" lengthAdjust="spacingAndGlyphs" transform="rotate(-90 370.20 368.20)" class="t">HSC/MPP</text>
<text x="378.75" y="368.20" font-size="6.15" text-anchor="end" textLength="20.80" lengthAdjust="spacingAndGlyphs" transform="rotate(-90 378.75 368.20)" class="t">MegPro</text>
<text x="387.30" y="368.20" font-size="6.15" text-anchor="end" textLength="11.80" lengthAdjust="spacingAndGlyphs" transform="rotate(-90 387.30 368.20)" class="t">MEP</text>
<text x="395.85" y="368.20" font-size="6.15" text-anchor="end" textLength="28.10" lengthAdjust="spacingAndGlyphs" transform="rotate(-90 395.85 368.20)" class="t">Monocytes</text>
<text x="404.40" y="368.20" font-size="6.15" text-anchor="end" textLength="26.60" lengthAdjust="spacingAndGlyphs" transform="rotate(-90 404.40 368.20)" class="t">MPP-MkE</text>
<text x="412.95" y="368.20" font-size="6.15" text-anchor="end" textLength="38.90" lengthAdjust="spacingAndGlyphs" transform="rotate(-90 412.95 368.20)" class="t">MSC-Adipo-1</text>
<text x="421.50" y="368.20" font-size="6.15" text-anchor="end" textLength="38.90" lengthAdjust="spacingAndGlyphs" transform="rotate(-90 421.50 368.20)" class="t">MSC-Adipo-2</text>
<text x="430.05" y="368.20" font-size="6.15" text-anchor="end" textLength="31.80" lengthAdjust="spacingAndGlyphs" transform="rotate(-90 430.05 368.20)" class="t">MSC-Osteo</text>
<text x="438.60" y="368.20" font-size="6.15" text-anchor="end" textLength="37.90" lengthAdjust="spacingAndGlyphs" transform="rotate(-90 438.60 368.20)" class="t">Neutrophils-1</text>
<text x="447.15" y="368.20" font-size="6.15" text-anchor="end" textLength="37.90" lengthAdjust="spacingAndGlyphs" transform="rotate(-90 447.15 368.20)" class="t">Neutrophils-2</text>
<text x="455.70" y="368.20" font-size="6.15" text-anchor="end" textLength="37.90" lengthAdjust="spacingAndGlyphs" transform="rotate(-90 455.70 368.20)" class="t">Neutrophils-3</text>
<text x="464.25" y="368.20" font-size="6.15" text-anchor="end" textLength="37.90" lengthAdjust="spacingAndGlyphs" transform="rotate(-90 464.25 368.20)" class="t">Neutrophils-4</text>
<text x="472.80" y="368.20" font-size="6.15" text-anchor="end" textLength="13.30" lengthAdjust="spacingAndGlyphs" transform="rotate(-90 472.80 368.20)" class="t">NK/T</text>
<text x="481.35" y="368.20" font-size="6.15" text-anchor="end" textLength="31.00" lengthAdjust="spacingAndGlyphs" transform="rotate(-90 481.35 368.20)" class="t">Osteoblasts</text>
<text x="489.90" y="368.20" font-size="6.15" text-anchor="end" textLength="15.60" lengthAdjust="spacingAndGlyphs" transform="rotate(-90 489.90 368.20)" class="t">Pre-B</text>
<text x="6.60" y="432.00" font-size="12.0" fill="#111" font-weight="bold" class="t">F</text>
<text x="64.50" y="440.60" font-size="6.78" textLength="21.30" lengthAdjust="spacingAndGlyphs" class="t">Ligands</text>
<text x="95.30" y="440.60" font-size="6.78" textLength="28.60" lengthAdjust="spacingAndGlyphs" class="t">Receptors</text>
<line x1="61.50" y1="445.40" x2="88.80" y2="445.40" stroke="#222" stroke-width="1.0"/>
<line x1="91.90" y1="445.40" x2="127.00" y2="445.40" stroke="#222" stroke-width="1.0"/>
<text x="66.08" y="471.40" font-size="6.36" font-style="italic" textLength="21.50" lengthAdjust="spacingAndGlyphs" transform="rotate(-90 66.08 471.40)" class="t">Adipoq</text>
<line x1="64.08" y1="474.80" x2="64.08" y2="477.90" stroke="#222" stroke-width="0.9"/>
<text x="73.66" y="471.40" font-size="6.36" font-style="italic" textLength="11.50" lengthAdjust="spacingAndGlyphs" transform="rotate(-90 73.66 471.40)" class="t">Kitl</text>
<line x1="71.66" y1="474.80" x2="71.66" y2="477.90" stroke="#222" stroke-width="0.9"/>
<text x="81.22" y="471.40" font-size="6.36" font-style="italic" textLength="11.50" lengthAdjust="spacingAndGlyphs" transform="rotate(-90 81.22 471.40)" class="t">Mdk</text>
<line x1="79.22" y1="474.80" x2="79.22" y2="477.90" stroke="#222" stroke-width="0.9"/>
<text x="88.80" y="471.40" font-size="6.36" font-style="italic" textLength="10.60" lengthAdjust="spacingAndGlyphs" transform="rotate(-90 88.80 471.40)" class="t">Igf1</text>
<line x1="86.80" y1="474.80" x2="86.80" y2="477.90" stroke="#222" stroke-width="0.9"/>
<text x="96.36" y="471.40" font-size="6.36" font-style="italic" textLength="23.00" lengthAdjust="spacingAndGlyphs" transform="rotate(-90 96.36 471.40)" class="t">Adipor1</text>
<line x1="94.36" y1="474.80" x2="94.36" y2="477.90" stroke="#222" stroke-width="0.9"/>
<text x="103.94" y="471.40" font-size="6.36" font-style="italic" textLength="7.00" lengthAdjust="spacingAndGlyphs" transform="rotate(-90 103.94 471.40)" class="t">Kit</text>
<line x1="101.94" y1="474.80" x2="101.94" y2="477.90" stroke="#222" stroke-width="0.9"/>
<text x="111.50" y="471.40" font-size="6.36" font-style="italic" textLength="14.50" lengthAdjust="spacingAndGlyphs" transform="rotate(-90 111.50 471.40)" class="t">Itga4</text>
<line x1="109.50" y1="474.80" x2="109.50" y2="477.90" stroke="#222" stroke-width="0.9"/>
<text x="119.08" y="471.40" font-size="6.36" font-style="italic" textLength="14.50" lengthAdjust="spacingAndGlyphs" transform="rotate(-90 119.08 471.40)" class="t">Itgb1</text>
<line x1="117.08" y1="474.80" x2="117.08" y2="477.90" stroke="#222" stroke-width="0.9"/>
<text x="126.64" y="471.40" font-size="6.36" font-style="italic" textLength="12.80" lengthAdjust="spacingAndGlyphs" transform="rotate(-90 126.64 471.40)" class="t">Igf1r</text>
<line x1="124.64" y1="474.80" x2="124.64" y2="477.90" stroke="#222" stroke-width="0.9"/>
<rect x="60.30" y="478.10" width="7.62" height="7.72" fill="#b4b4e4"/>
<rect x="67.87" y="478.10" width="7.62" height="7.72" fill="#b2b6e2"/>
<rect x="75.44" y="478.10" width="7.62" height="7.72" fill="#fcd8d0"/>
<rect x="83.01" y="478.10" width="7.62" height="7.72" fill="#2c2c94"/>
<rect x="90.58" y="478.10" width="7.62" height="7.72" fill="#fafcfc"/>
<rect x="113.29" y="478.10" width="7.62" height="7.72" fill="#b4b4e0"/>
<rect x="120.86" y="478.10" width="7.62" height="7.72" fill="#fce4e0"/>
<rect x="60.30" y="485.77" width="7.62" height="7.72" fill="#8c8cc8"/>
<rect x="67.87" y="485.77" width="7.62" height="7.72" fill="#e2e2f4"/>
<rect x="75.44" y="485.77" width="7.62" height="7.72" fill="#fafafa"/>
<rect x="83.01" y="485.77" width="7.62" height="7.72" fill="#6060b4"/>
<rect x="90.58" y="485.77" width="7.62" height="7.72" fill="#eef4f6"/>
<rect x="113.29" y="485.77" width="7.62" height="7.72" fill="#b0b0dc"/>
<rect x="120.86" y="485.77" width="7.62" height="7.72" fill="#fcf0f0"/>
<rect x="60.30" y="493.44" width="7.62" height="7.72" fill="#fce4e4"/>
<rect x="67.87" y="493.44" width="7.62" height="7.72" fill="#c4c8e8"/>
<rect x="75.44" y="493.44" width="7.62" height="7.72" fill="#f47c7c"/>
<rect x="83.01" y="493.44" width="7.62" height="7.72" fill="#20208c"/>
<rect x="98.15" y="493.44" width="7.62" height="7.72" fill="#f4c8c8"/>
<rect x="113.29" y="493.44" width="7.62" height="7.72" fill="#b8b8e0"/>
<rect x="120.86" y="493.44" width="7.62" height="7.72" fill="#fdf0f0"/>
<rect x="60.30" y="501.11" width="7.62" height="7.72" fill="#f4f0fc"/>
<rect x="67.87" y="501.11" width="7.62" height="7.72" fill="#f0f0f8"/>
<rect x="75.44" y="501.11" width="7.62" height="7.72" fill="#f8fcfc"/>
<rect x="83.01" y="501.11" width="7.62" height="7.72" fill="#b0b0e8"/>
<rect x="90.58" y="501.11" width="7.62" height="7.72" fill="#fcfcff"/>
<rect x="113.29" y="501.11" width="7.62" height="7.72" fill="#c0c0e4"/>
<rect x="120.86" y="501.11" width="7.62" height="7.72" fill="#fdf6f6"/>
<rect x="67.87" y="508.78" width="7.62" height="7.72" fill="#d8dcf0"/>
<rect x="90.58" y="508.78" width="7.62" height="7.72" fill="#ecf0f8"/>
<rect x="98.15" y="508.78" width="7.62" height="7.72" fill="#f4f4f8"/>
<rect x="113.29" y="508.78" width="7.62" height="7.72" fill="#c4c4e4"/>
<rect x="120.86" y="508.78" width="7.62" height="7.72" fill="#fcd8c8"/>
<rect x="67.87" y="516.45" width="7.62" height="7.72" fill="#f8dcdc"/>
<rect x="75.44" y="516.45" width="7.62" height="7.72" fill="#fdf4f4"/>
<rect x="98.15" y="516.45" width="7.62" height="7.72" fill="#fce8e4"/>
<rect x="113.29" y="516.45" width="7.62" height="7.72" fill="#e0e0f0"/>
<rect x="120.86" y="516.45" width="7.62" height="7.72" fill="#e8ecf8"/>
<text x="53.60" y="484.29" font-size="7.1" text-anchor="end" textLength="38.60" lengthAdjust="spacingAndGlyphs" class="t">MSC-Adipo-1</text>
<line x1="56.90" y1="481.94" x2="60.30" y2="481.94" stroke="#222" stroke-width="1.0"/>
<text x="53.60" y="491.96" font-size="7.1" text-anchor="end" textLength="38.60" lengthAdjust="spacingAndGlyphs" class="t">MSC-Adipo-2</text>
<line x1="56.90" y1="489.61" x2="60.30" y2="489.61" stroke="#222" stroke-width="1.0"/>
<text x="53.60" y="499.63" font-size="7.1" text-anchor="end" textLength="33.20" lengthAdjust="spacingAndGlyphs" class="t">MSC-Osteo</text>
<line x1="56.90" y1="497.28" x2="60.30" y2="497.28" stroke="#222" stroke-width="1.0"/>
<text x="53.60" y="507.30" font-size="7.1" text-anchor="end" textLength="30.60" lengthAdjust="spacingAndGlyphs" class="t">Osteoblast</text>
<line x1="56.90" y1="504.95" x2="60.30" y2="504.95" stroke="#222" stroke-width="1.0"/>
<text x="53.60" y="514.97" font-size="7.1" text-anchor="end" textLength="36.90" lengthAdjust="spacingAndGlyphs" class="t">EC-Arteriolar</text>
<line x1="56.90" y1="512.62" x2="60.30" y2="512.62" stroke="#222" stroke-width="1.0"/>
<text x="53.60" y="522.64" font-size="7.1" text-anchor="end" textLength="38.60" lengthAdjust="spacingAndGlyphs" class="t">EC-Sinusoidal</text>
<line x1="56.90" y1="520.29" x2="60.30" y2="520.29" stroke="#222" stroke-width="1.0"/>
<rect x="60.30" y="478.10" width="68.20" height="46.00" fill="none" stroke="#1a1a1a" stroke-width="1.1"/>
<line x1="60.30" y1="508.78" x2="128.50" y2="508.78" stroke="#1a1a1a" stroke-width="1.0"/>
<line x1="90.60" y1="478.10" x2="90.60" y2="524.10" stroke="#1a1a1a" stroke-width="1.0"/>
<rect x="75.44" y="527.80" width="7.62" height="7.52" fill="#f6f6fb"/>
<rect x="83.01" y="527.80" width="7.62" height="7.52" fill="#ebebf6"/>
<rect x="90.58" y="527.80" width="7.62" height="7.52" fill="#f2f2f9"/>
<rect x="98.15" y="527.80" width="7.62" height="7.52" fill="#d0d0eb"/>
<rect x="105.72" y="527.80" width="7.62" height="7.52" fill="#a1a1d7"/>
<rect x="113.29" y="527.80" width="7.62" height="7.52" fill="#e5e5f2"/>
<rect x="120.86" y="527.80" width="7.62" height="7.52" fill="#ebebf6"/>
<rect x="98.15" y="535.27" width="7.62" height="7.52" fill="#c9c9e8"/>
<rect x="105.72" y="535.27" width="7.62" height="7.52" fill="#dedef2"/>
<rect x="113.29" y="535.27" width="7.62" height="7.52" fill="#d7d7ef"/>
<rect x="98.15" y="542.74" width="7.62" height="7.52" fill="#c3c3e5"/>
<rect x="105.72" y="542.74" width="7.62" height="7.52" fill="#dedef2"/>
<rect x="113.29" y="542.74" width="7.62" height="7.52" fill="#d0d0eb"/>
<rect x="98.15" y="550.21" width="7.62" height="7.52" fill="#d7d7ef"/>
<rect x="105.72" y="550.21" width="7.62" height="7.52" fill="#d0d0eb"/>
<rect x="113.29" y="550.21" width="7.62" height="7.52" fill="#d0d0eb"/>
<rect x="98.15" y="557.68" width="7.62" height="7.52" fill="#d7d7ef"/>
<rect x="105.72" y="557.68" width="7.62" height="7.52" fill="#d0d0eb"/>
<rect x="113.29" y="557.68" width="7.62" height="7.52" fill="#d7d7ef"/>
<rect x="98.15" y="565.15" width="7.62" height="7.52" fill="#d0d0eb"/>
<rect x="105.72" y="565.15" width="7.62" height="7.52" fill="#d0d0eb"/>
<rect x="113.29" y="565.15" width="7.62" height="7.52" fill="#f6f6fc"/>
<rect x="120.86" y="565.15" width="7.62" height="7.52" fill="#fdf6f6"/>
<rect x="98.15" y="572.62" width="7.62" height="7.52" fill="#d7d7ef"/>
<rect x="105.72" y="572.62" width="7.62" height="7.52" fill="#d7d7ef"/>
<rect x="113.29" y="572.62" width="7.62" height="7.52" fill="#c3c3e1"/>
<rect x="60.30" y="580.09" width="7.62" height="7.52" fill="#fbfbfc"/>
<rect x="98.15" y="580.09" width="7.62" height="7.52" fill="#9595d0"/>
<rect x="105.72" y="580.09" width="7.62" height="7.52" fill="#9595d0"/>
<rect x="120.86" y="580.09" width="7.62" height="7.52" fill="#dedeef"/>
<rect x="105.72" y="587.56" width="7.62" height="7.52" fill="#fbfbfc"/>
<rect x="120.86" y="587.56" width="7.62" height="7.52" fill="#ebebf6"/>
<rect x="90.58" y="595.03" width="7.62" height="7.52" fill="#f1f2f9"/>
<rect x="113.29" y="595.03" width="7.62" height="7.52" fill="#c3c6de"/>
<rect x="60.30" y="602.50" width="7.62" height="7.52" fill="#f2f2f9"/>
<rect x="67.87" y="602.50" width="7.62" height="7.52" fill="#f6f6fb"/>
<rect x="98.15" y="602.50" width="7.62" height="7.52" fill="#fcded7"/>
<rect x="105.72" y="602.50" width="7.62" height="7.52" fill="#fce5de"/>
<rect x="120.86" y="602.50" width="7.62" height="7.52" fill="#fdf2ef"/>
<text x="53.70" y="533.88" font-size="7.1" text-anchor="end" textLength="12.30" lengthAdjust="spacingAndGlyphs" class="t">HSC</text>
<line x1="56.60" y1="531.53" x2="60.30" y2="531.53" stroke="#222" stroke-width="1.0"/>
<text x="53.70" y="541.36" font-size="7.1" text-anchor="end" textLength="27.90" lengthAdjust="spacingAndGlyphs" class="t">HSC/MPP</text>
<line x1="56.60" y1="539.00" x2="60.30" y2="539.00" stroke="#222" stroke-width="1.0"/>
<text x="53.70" y="548.82" font-size="7.1" text-anchor="end" textLength="27.50" lengthAdjust="spacingAndGlyphs" class="t">MPP-MkE</text>
<line x1="56.60" y1="546.47" x2="60.30" y2="546.47" stroke="#222" stroke-width="1.0"/>
<text x="53.70" y="556.29" font-size="7.1" text-anchor="end" textLength="22.20" lengthAdjust="spacingAndGlyphs" class="t">MegPro</text>
<line x1="56.60" y1="553.94" x2="60.30" y2="553.94" stroke="#222" stroke-width="1.0"/>
<text x="53.70" y="563.76" font-size="7.1" text-anchor="end" textLength="39.90" lengthAdjust="spacingAndGlyphs" class="t">Erythroblast-1</text>
<line x1="56.60" y1="561.41" x2="60.30" y2="561.41" stroke="#222" stroke-width="1.0"/>
<text x="53.70" y="571.24" font-size="7.1" text-anchor="end" textLength="39.90" lengthAdjust="spacingAndGlyphs" class="t">Erythroblast-2</text>
<line x1="56.60" y1="568.88" x2="60.30" y2="568.88" stroke="#222" stroke-width="1.0"/>
<text x="53.70" y="578.70" font-size="7.1" text-anchor="end" textLength="14.30" lengthAdjust="spacingAndGlyphs" class="t">GMP</text>
<line x1="56.60" y1="576.35" x2="60.30" y2="576.35" stroke="#222" stroke-width="1.0"/>
<text x="53.70" y="586.17" font-size="7.1" text-anchor="end" textLength="30.40" lengthAdjust="spacingAndGlyphs" class="t">EoBasoPro</text>
<line x1="56.60" y1="583.82" x2="60.30" y2="583.82" stroke="#222" stroke-width="1.0"/>
<text x="53.70" y="593.64" font-size="7.1" text-anchor="end" textLength="19.70" lengthAdjust="spacingAndGlyphs" class="t">Neut-1</text>
<line x1="56.60" y1="591.29" x2="60.30" y2="591.29" stroke="#222" stroke-width="1.0"/>
<text x="53.70" y="601.12" font-size="7.1" text-anchor="end" textLength="19.70" lengthAdjust="spacingAndGlyphs" class="t">Neut-3</text>
<line x1="56.60" y1="598.76" x2="60.30" y2="598.76" stroke="#222" stroke-width="1.0"/>
<text x="53.70" y="608.58" font-size="7.1" text-anchor="end" textLength="14.80" lengthAdjust="spacingAndGlyphs" class="t">NK/T</text>
<line x1="56.60" y1="606.23" x2="60.30" y2="606.23" stroke="#222" stroke-width="1.0"/>
<rect x="60.30" y="527.80" width="68.20" height="82.20" fill="none" stroke="#1a1a1a" stroke-width="1.1"/>
<line x1="90.60" y1="527.80" x2="90.60" y2="610.00" stroke="#1a1a1a" stroke-width="1.0"/>
<defs><linearGradient id="gF" x1="0" y1="0" x2="1" y2="0"><stop offset="0" stop-color="#1a1a7e"/><stop offset="0.25" stop-color="#7c7cbe"/><stop offset="0.5" stop-color="#ffffff"/><stop offset="0.75" stop-color="#f08a8a"/><stop offset="1" stop-color="#e2001a"/></linearGradient></defs>
<rect x="59.50" y="615.80" width="70.40" height="8.60" fill="url(#gF)"/>
<line x1="94.70" y1="615.80" x2="94.70" y2="617.00" stroke="#333" stroke-width="0.6"/>
<line x1="94.70" y1="623.20" x2="94.70" y2="624.40" stroke="#333" stroke-width="0.6"/>
<text x="52.60" y="633.60" font-size="7.0" textLength="13.00" lengthAdjust="spacingAndGlyphs" class="t">−0.3</text>
<text x="94.50" y="633.60" font-size="7.0" text-anchor="middle" class="t">0</text>
<text x="125.30" y="633.60" font-size="7.0" textLength="8.60" lengthAdjust="spacingAndGlyphs" class="t">0.3</text>
<text x="70.80" y="646.20" font-size="9.33" textLength="48.40" lengthAdjust="spacingAndGlyphs" class="t">log(fold change)</text>
<text x="61.20" y="656.00" font-size="9.33" textLength="67.50" lengthAdjust="spacingAndGlyphs" class="t">middle-aged vs. young</text>
<text x="148.80" y="432.40" font-size="12.0" fill="#111" font-weight="bold" class="t">G</text>
<line x1="188.60" y1="455.10" x2="188.60" y2="537.80" stroke="#222" stroke-width="1.1"/>
<line x1="188.00" y1="537.30" x2="278.90" y2="537.30" stroke="#222" stroke-width="1.2"/>
<line x1="186.00" y1="471.10" x2="188.60" y2="471.10" stroke="#222" stroke-width="0.8"/>
<text x="182.80" y="473.40" font-size="7.0" text-anchor="end" textLength="8.30" lengthAdjust="spacingAndGlyphs" class="t">4.0</text>
<line x1="186.00" y1="494.30" x2="188.60" y2="494.30" stroke="#222" stroke-width="0.8"/>
<text x="182.80" y="496.60" font-size="7.0" text-anchor="end" textLength="8.30" lengthAdjust="spacingAndGlyphs" class="t">3.5</text>
<line x1="186.00" y1="517.20" x2="188.60" y2="517.20" stroke="#222" stroke-width="0.8"/>
<text x="182.80" y="519.50" font-size="7.0" text-anchor="end" textLength="8.30" lengthAdjust="spacingAndGlyphs" class="t">3.0</text>
<line x1="202.70" y1="537.30" x2="202.70" y2="540.20" stroke="#222" stroke-width="0.8"/>
<text x="202.70" y="549.00" font-size="7.0" text-anchor="middle" textLength="7.20" lengthAdjust="spacingAndGlyphs" class="t">20</text>
<line x1="228.60" y1="537.30" x2="228.60" y2="540.20" stroke="#222" stroke-width="0.8"/>
<text x="228.60" y="549.00" font-size="7.0" text-anchor="middle" textLength="7.20" lengthAdjust="spacingAndGlyphs" class="t">24</text>
<line x1="254.20" y1="537.30" x2="254.20" y2="540.20" stroke="#222" stroke-width="0.8"/>
<text x="254.20" y="549.00" font-size="7.0" text-anchor="middle" textLength="7.20" lengthAdjust="spacingAndGlyphs" class="t">28</text>
<text x="191.8" y="461.9" font-size="7.31" fill="#333" textLength="51" lengthAdjust="spacingAndGlyphs"><tspan font-style="italic">R</tspan> = 0.69, <tspan font-style="italic">P</tspan> = .038</text>
<line x1="192.60" y1="533.50" x2="274.30" y2="488.70" stroke="#c8232e" stroke-width="1.4"/>
<circle cx="257.50" cy="457.80" r="1.15" fill="#111"/>
<text x="251.50" y="465.10" font-size="7.31" textLength="8.80" lengthAdjust="spacingAndGlyphs" class="t">M7</text>
<circle cx="274.70" cy="492.20" r="1.15" fill="#111"/>
<text x="270.80" y="499.80" font-size="7.31" textLength="8.80" lengthAdjust="spacingAndGlyphs" class="t">M3</text>
<circle cx="266.70" cy="499.50" r="1.15" fill="#111"/>
<text x="256.90" y="506.80" font-size="7.31" textLength="8.80" lengthAdjust="spacingAndGlyphs" class="t">M9</text>
<circle cx="234.00" cy="511.80" r="1.15" fill="#111"/>
<text x="236.80" y="517.40" font-size="7.31" textLength="8.80" lengthAdjust="spacingAndGlyphs" class="t">M4</text>
<circle cx="232.70" cy="517.80" r="1.15" fill="#111"/>
<text x="224.50" y="524.80" font-size="7.31" textLength="8.80" lengthAdjust="spacingAndGlyphs" class="t">M5</text>
<circle cx="251.00" cy="526.80" r="1.15" fill="#111"/>
<text x="246.90" y="524.30" font-size="7.31" textLength="8.80" lengthAdjust="spacingAndGlyphs" class="t">M1</text>
<circle cx="211.40" cy="520.80" r="1.15" fill="#111"/>
<text x="201.30" y="519.70" font-size="7.31" textLength="8.80" lengthAdjust="spacingAndGlyphs" class="t">M8</text>
<circle cx="192.60" cy="529.50" r="1.15" fill="#111"/>
<text x="190.20" y="527.30" font-size="7.31" textLength="8.80" lengthAdjust="spacingAndGlyphs" class="t">M6</text>
<circle cx="197.40" cy="533.50" r="1.15" fill="#111"/>
<text x="200.80" y="536.20" font-size="7.31" textLength="8.80" lengthAdjust="spacingAndGlyphs" class="t">M2</text>
<text x="188.5" y="560.2" font-size="9.12" fill="#333" textLength="90" lengthAdjust="spacingAndGlyphs"><tspan font-style="italic">Kitl</tspan> expression in Adipo-MSC-1</text>
<text x="167.8" y="497.4" font-size="9.12" fill="#333" text-anchor="middle" textLength="90.3" lengthAdjust="spacingAndGlyphs" transform="rotate(-90 167.8 497.4)"><tspan font-style="italic">Igf1</tspan> expression in Adipo-MSC-1</text>
<text x="294.60" y="432.70" font-size="12.0" fill="#111" font-weight="bold" class="t">H</text>
<text x="363.75" y="442.80" font-size="8.9" text-anchor="middle" textLength="50.90" lengthAdjust="spacingAndGlyphs" class="t">Adipo-MSC-1</text>
<text x="452.80" y="442.80" font-size="8.9" text-anchor="middle" textLength="44.40" lengthAdjust="spacingAndGlyphs" class="t">Osteo-MSC</text>
<line x1="335.40" y1="448.00" x2="335.40" y2="537.80" stroke="#222" stroke-width="1.0"/>
<line x1="334.90" y1="537.40" x2="392.40" y2="537.40" stroke="#222" stroke-width="1.0"/>
<line x1="333.00" y1="450.60" x2="335.40" y2="450.60" stroke="#222" stroke-width="0.8"/>
<text x="328.20" y="452.90" font-size="7.0" text-anchor="end" textLength="11.40" lengthAdjust="spacingAndGlyphs" class="t">3.52</text>
<line x1="333.00" y1="479.60" x2="335.40" y2="479.60" stroke="#222" stroke-width="0.8"/>
<text x="328.20" y="481.90" font-size="7.0" text-anchor="end" textLength="11.40" lengthAdjust="spacingAndGlyphs" class="t">2.34</text>
<line x1="333.00" y1="508.30" x2="335.40" y2="508.30" stroke="#222" stroke-width="0.8"/>
<text x="328.20" y="510.60" font-size="7.0" text-anchor="end" textLength="11.40" lengthAdjust="spacingAndGlyphs" class="t">1.17</text>
<line x1="333.00" y1="537.20" x2="335.40" y2="537.20" stroke="#222" stroke-width="0.8"/>
<text x="328.20" y="539.50" font-size="7.0" text-anchor="end" textLength="3.00" lengthAdjust="spacingAndGlyphs" class="t">0</text>
<line x1="347.10" y1="537.40" x2="347.10" y2="539.80" stroke="#222" stroke-width="0.8"/>
<line x1="364.80" y1="537.40" x2="364.80" y2="539.80" stroke="#222" stroke-width="0.8"/>
<line x1="382.30" y1="537.40" x2="382.30" y2="539.80" stroke="#222" stroke-width="0.8"/>
<line x1="347.35" y1="479.30" x2="347.35" y2="489.20" stroke="#222" stroke-width="0.9"/>
<line x1="347.35" y1="517.90" x2="347.35" y2="537.00" stroke="#222" stroke-width="0.9"/>
<line x1="344.55" y1="479.30" x2="350.15" y2="479.30" stroke="#222" stroke-width="0.9"/>
<line x1="344.55" y1="537.00" x2="350.15" y2="537.00" stroke="#222" stroke-width="0.9"/>
<rect x="342.70" y="489.20" width="9.30" height="28.70" fill="#9a8cc8"/>
<line x1="342.70" y1="501.90" x2="352.00" y2="501.90" stroke="#111" stroke-width="1.3"/>
<line x1="364.65" y1="475.40" x2="364.65" y2="483.90" stroke="#222" stroke-width="0.9"/>
<line x1="364.65" y1="503.50" x2="364.65" y2="511.20" stroke="#222" stroke-width="0.9"/>
<line x1="361.85" y1="475.40" x2="367.45" y2="475.40" stroke="#222" stroke-width="0.9"/>
<line x1="361.85" y1="511.20" x2="367.45" y2="511.20" stroke="#222" stroke-width="0.9"/>
<rect x="359.60" y="483.90" width="10.10" height="19.60" fill="#2aa6e0"/>
<line x1="359.60" y1="493.10" x2="369.70" y2="493.10" stroke="#111" stroke-width="1.3"/>
<line x1="382.10" y1="474.20" x2="382.10" y2="483.20" stroke="#222" stroke-width="0.9"/>
<line x1="382.10" y1="503.00" x2="382.10" y2="511.20" stroke="#222" stroke-width="0.9"/>
<line x1="379.30" y1="474.20" x2="384.90" y2="474.20" stroke="#222" stroke-width="0.9"/>
<line x1="379.30" y1="511.20" x2="384.90" y2="511.20" stroke="#222" stroke-width="0.9"/>
<rect x="376.90" y="483.20" width="10.40" height="19.80" fill="#1d4f8a"/>
<line x1="376.90" y1="492.00" x2="387.30" y2="492.00" stroke="#111" stroke-width="1.3"/>
<line x1="421.90" y1="450.40" x2="421.90" y2="537.80" stroke="#222" stroke-width="1.0"/>
<line x1="421.40" y1="537.40" x2="484.30" y2="537.40" stroke="#222" stroke-width="1.0"/>
<line x1="419.60" y1="451.60" x2="421.90" y2="451.60" stroke="#222" stroke-width="0.8"/>
<text x="415.80" y="453.90" font-size="7.0" text-anchor="end" textLength="11.40" lengthAdjust="spacingAndGlyphs" class="t">3.74</text>
<line x1="419.60" y1="480.60" x2="421.90" y2="480.60" stroke="#222" stroke-width="0.8"/>
<text x="415.80" y="482.90" font-size="7.0" text-anchor="end" textLength="11.40" lengthAdjust="spacingAndGlyphs" class="t">2.49</text>
<line x1="419.60" y1="509.40" x2="421.90" y2="509.40" stroke="#222" stroke-width="0.8"/>
<text x="415.80" y="511.70" font-size="7.0" text-anchor="end" textLength="11.40" lengthAdjust="spacingAndGlyphs" class="t">1.25</text>
<line x1="419.60" y1="537.20" x2="421.90" y2="537.20" stroke="#222" stroke-width="0.8"/>
<text x="415.80" y="539.50" font-size="7.0" text-anchor="end" textLength="3.00" lengthAdjust="spacingAndGlyphs" class="t">0</text>
<line x1="435.60" y1="537.40" x2="435.60" y2="539.80" stroke="#222" stroke-width="0.8"/>
<line x1="453.80" y1="537.40" x2="453.80" y2="539.80" stroke="#222" stroke-width="0.8"/>
<line x1="472.20" y1="537.40" x2="472.20" y2="539.80" stroke="#222" stroke-width="0.8"/>
<line x1="435.55" y1="475.80" x2="435.55" y2="485.00" stroke="#222" stroke-width="0.9"/>
<line x1="435.55" y1="510.50" x2="435.55" y2="537.00" stroke="#222" stroke-width="0.9"/>
<line x1="432.75" y1="475.80" x2="438.35" y2="475.80" stroke="#222" stroke-width="0.9"/>
<line x1="432.75" y1="537.00" x2="438.35" y2="537.00" stroke="#222" stroke-width="0.9"/>
<rect x="430.00" y="485.00" width="11.10" height="25.50" fill="#9a8cc8"/>
<line x1="430.00" y1="496.60" x2="441.10" y2="496.60" stroke="#111" stroke-width="1.3"/>
<line x1="453.80" y1="472.40" x2="453.80" y2="482.00" stroke="#222" stroke-width="0.9"/>
<line x1="453.80" y1="503.50" x2="453.80" y2="518.50" stroke="#222" stroke-width="0.9"/>
<line x1="451.00" y1="472.40" x2="456.60" y2="472.40" stroke="#222" stroke-width="0.9"/>
<line x1="451.00" y1="518.50" x2="456.60" y2="518.50" stroke="#222" stroke-width="0.9"/>
<rect x="448.00" y="482.00" width="11.60" height="21.50" fill="#2aa6e0"/>
<line x1="448.00" y1="490.80" x2="459.60" y2="490.80" stroke="#111" stroke-width="1.3"/>
<line x1="472.15" y1="466.10" x2="472.15" y2="475.40" stroke="#222" stroke-width="0.9"/>
<line x1="472.15" y1="501.20" x2="472.15" y2="513.20" stroke="#222" stroke-width="0.9"/>
<line x1="469.35" y1="466.10" x2="474.95" y2="466.10" stroke="#222" stroke-width="0.9"/>
<line x1="469.35" y1="513.20" x2="474.95" y2="513.20" stroke="#222" stroke-width="0.9"/>
<rect x="466.50" y="475.40" width="11.30" height="25.80" fill="#1d4f8a"/>
<line x1="466.50" y1="490.40" x2="477.80" y2="490.40" stroke="#111" stroke-width="1.3"/>
<text x="341.30" y="548.60" font-size="7.42" textLength="12.50" lengthAdjust="spacingAndGlyphs" class="t">Total</text>
<text x="358.60" y="548.6" font-size="7.42" fill="#333" font-style="italic" textLength="13" lengthAdjust="spacingAndGlyphs">Kitl<tspan font-size="4.24" dy="-2.8">hi</tspan></text>
<text x="375.90" y="548.6" font-size="7.42" fill="#333" font-style="italic" textLength="13" lengthAdjust="spacingAndGlyphs">Kitl<tspan font-size="4.24" dy="-2.8">hi</tspan></text>
<text x="371.00" y="556.5" font-size="7.42" fill="#333" font-style="italic" textLength="21.7" lengthAdjust="spacingAndGlyphs">Cxcl12<tspan font-size="4.24" dy="-2.8">hi</tspan></text>
<text x="429.80" y="548.60" font-size="7.42" textLength="12.50" lengthAdjust="spacingAndGlyphs" class="t">Total</text>
<text x="447.10" y="548.6" font-size="7.42" fill="#333" font-style="italic" textLength="13" lengthAdjust="spacingAndGlyphs">Kitl<tspan font-size="4.24" dy="-2.8">hi</tspan></text>
<text x="464.40" y="548.6" font-size="7.42" fill="#333" font-style="italic" textLength="13" lengthAdjust="spacingAndGlyphs">Kitl<tspan font-size="4.24" dy="-2.8">hi</tspan></text>
<text x="459.50" y="556.5" font-size="7.42" fill="#333" font-style="italic" textLength="21.7" lengthAdjust="spacingAndGlyphs">Cxcl12<tspan font-size="4.24" dy="-2.8">hi</tspan></text>
<text x="312.0" y="493.9" font-size="8.48" fill="#333" text-anchor="middle" textLength="48.1" lengthAdjust="spacingAndGlyphs" transform="rotate(-90 312.0 493.9)"><tspan font-style="italic">Igf1</tspan> expression</text>
<text x="149.40" y="587.90" font-size="12.0" fill="#111" font-weight="bold" class="t">I</text>
<path d="M169.6,603.2 L169.6,607.0 A16.6,3.4 0 0 0 202.8,607.0 L202.8,603.2" stroke="#555" stroke-width="0.7" fill="#e8eef0"/>
<ellipse cx="186.2" cy="607.0" rx="15.8" ry="2.6" fill="#7fa4b0"/>
<ellipse cx="186.2" cy="603.0" rx="16.6" ry="3.0" fill="#f4f6f6" stroke="#555" stroke-width="0.7"/>
<ellipse cx="186.2" cy="603.4" rx="14.6" ry="1.9" fill="none" stroke="#999" stroke-width="0.4"/>
<text x="167.8" y="622.8" font-size="7.74" fill="#333" textLength="35.5" lengthAdjust="spacingAndGlyphs">WT or <tspan font-style="italic">Igf1</tspan><tspan font-size="4.03" dy="-2.4">−/−</tspan></text>
<text x="185.20" y="630.60" font-size="7.74" text-anchor="middle" textLength="13.90" lengthAdjust="spacingAndGlyphs" class="t">MSC</text>
<line x1="186.20" y1="634.70" x2="186.20" y2="645.40" stroke="#111" stroke-width="0.9"/>
<path d="M184.2,644.6 L186.2,648.8 L188.2,644.6 Z" stroke="none" stroke-width="1" fill="#111"/>
<text x="192.10" y="644.40" font-size="7.74" textLength="7.20" lengthAdjust="spacingAndGlyphs" class="t">7d</text>
<text x="186.00" y="658.60" font-size="7.74" text-anchor="middle" textLength="35.60" lengthAdjust="spacingAndGlyphs" class="t">Conditioned</text>
<text x="186.00" y="666.20" font-size="7.74" text-anchor="middle" textLength="27.10" lengthAdjust="spacingAndGlyphs" class="t">media for</text>
<text x="185.30" y="673.70" font-size="7.74" text-anchor="middle" textLength="22.30" lengthAdjust="spacingAndGlyphs" class="t">luminex</text>
<text x="219.40" y="588.00" font-size="12.0" fill="#111" font-weight="bold" class="t">J</text>
<line x1="261.40" y1="592.30" x2="261.40" y2="668.90" stroke="#222" stroke-width="1.0"/>
<line x1="258.80" y1="593.70" x2="261.40" y2="593.70" stroke="#222" stroke-width="0.8"/>
<text x="256.50" y="596.00" font-size="7.0" text-anchor="end" textLength="18.10" lengthAdjust="spacingAndGlyphs" class="t">20000</text>
<line x1="258.80" y1="612.70" x2="261.40" y2="612.70" stroke="#222" stroke-width="0.8"/>
<text x="256.50" y="615.00" font-size="7.0" text-anchor="end" textLength="18.10" lengthAdjust="spacingAndGlyphs" class="t">15000</text>
<line x1="258.80" y1="631.20" x2="261.40" y2="631.20" stroke="#222" stroke-width="0.8"/>
<text x="256.50" y="633.50" font-size="7.0" text-anchor="end" textLength="18.10" lengthAdjust="spacingAndGlyphs" class="t">10000</text>
<line x1="258.80" y1="649.70" x2="261.40" y2="649.70" stroke="#222" stroke-width="0.8"/>
<text x="256.50" y="652.00" font-size="7.0" text-anchor="end" textLength="14.20" lengthAdjust="spacingAndGlyphs" class="t">5000</text>
<line x1="258.80" y1="668.40" x2="261.40" y2="668.40" stroke="#222" stroke-width="0.8"/>
<text x="256.50" y="670.70" font-size="7.0" text-anchor="end" textLength="3.20" lengthAdjust="spacingAndGlyphs" class="t">0</text>
<line x1="260.90" y1="668.40" x2="291.10" y2="668.40" stroke="#222" stroke-width="1.0"/>
<line x1="276.40" y1="668.40" x2="276.40" y2="671.00" stroke="#222" stroke-width="0.8"/>
<text x="276.40" y="680.40" font-size="7.0" text-anchor="middle" textLength="12.20" lengthAdjust="spacingAndGlyphs" class="t">IGF1</text>
<text x="232.60" y="629.90" font-size="8.69" text-anchor="middle" textLength="66.60" lengthAdjust="spacingAndGlyphs" transform="rotate(-90 232.60 629.90)" class="t">Concentration (pg/mL)</text>
<text x="276.40" y="599.60" font-size="7.0" text-anchor="middle" textLength="11.40" lengthAdjust="spacingAndGlyphs" class="t">****</text>
<path d="M270,610.8 L270,599.6 L282.7,599.6 L282.7,638.8" stroke="#222" stroke-width="0.8" fill="none"/>
<path d="M270,612.9 C271.2,612.9 271.6,614.5 271.2,616 C273,618 274.5,621 274.3,624.5 C274,626.4 272,626.8 270,626.8 C268,626.8 266,626.4 265.7,624.5 C265.5,621 267,618 268.8,616 C268.4,614.5 268.8,612.9 270,612.9 Z" stroke="#4a566e" stroke-width="0.6" fill="#7a8aa2"/>
<circle cx="270.00" cy="614.20" r="1.25" fill="#a4b0c6" stroke="#56647c" stroke-width="0.5"/>
<circle cx="268.60" cy="617.20" r="1.25" fill="#a4b0c6" stroke="#56647c" stroke-width="0.5"/>
<circle cx="271.40" cy="617.60" r="1.25" fill="#a4b0c6" stroke="#56647c" stroke-width="0.5"/>
<circle cx="267.80" cy="620.40" r="1.25" fill="#a4b0c6" stroke="#56647c" stroke-width="0.5"/>
<circle cx="270.20" cy="620.60" r="1.25" fill="#a4b0c6" stroke="#56647c" stroke-width="0.5"/>
<circle cx="272.60" cy="620.80" r="1.25" fill="#a4b0c6" stroke="#56647c" stroke-width="0.5"/>
<circle cx="267.20" cy="623.60" r="1.25" fill="#a4b0c6" stroke="#56647c" stroke-width="0.5"/>
<circle cx="269.60" cy="624.00" r="1.25" fill="#a4b0c6" stroke="#56647c" stroke-width="0.5"/>
<circle cx="272.20" cy="623.80" r="1.25" fill="#a4b0c6" stroke="#56647c" stroke-width="0.5"/>
<circle cx="270.00" cy="626.00" r="1.25" fill="#a4b0c6" stroke="#56647c" stroke-width="0.5"/>
<path d="M282.7,641 C285,641 287.4,643 287.2,646 C287.1,649 285.5,651.5 283.4,652.6 L283.2,654.2 L284.6,656.3 L282.7,658 L280.8,656.3 L282.2,654.2 L282,652.6 C279.9,651.5 278.3,649 278.2,646 C278,643 280.4,641 282.7,641 Z" stroke="#5a1e66" stroke-width="0.6" fill="#a060ae"/>
<circle cx="280.60" cy="643.20" r="1.3" fill="#c490cc" stroke="#6e2a7c" stroke-width="0.55"/>
<circle cx="284.80" cy="643.20" r="1.3" fill="#c490cc" stroke="#6e2a7c" stroke-width="0.55"/>
<circle cx="282.70" cy="645.20" r="1.3" fill="#c490cc" stroke="#6e2a7c" stroke-width="0.55"/>
<circle cx="279.60" cy="646.80" r="1.3" fill="#c490cc" stroke="#6e2a7c" stroke-width="0.55"/>
<circle cx="285.80" cy="646.80" r="1.3" fill="#c490cc" stroke="#6e2a7c" stroke-width="0.55"/>
<circle cx="281.60" cy="648.60" r="1.3" fill="#c490cc" stroke="#6e2a7c" stroke-width="0.55"/>
<circle cx="284.00" cy="649.40" r="1.3" fill="#c490cc" stroke="#6e2a7c" stroke-width="0.55"/>
<circle cx="282.70" cy="651.20" r="1.3" fill="#c490cc" stroke="#6e2a7c" stroke-width="0.55"/>
<circle cx="282.70" cy="656.30" r="1.3" fill="#c490cc" stroke="#6e2a7c" stroke-width="0.55"/>
<text x="306.80" y="587.60" font-size="12.0" fill="#111" font-weight="bold" class="t">K</text>
<line x1="340.80" y1="592.00" x2="340.80" y2="668.80" stroke="#222" stroke-width="1.0"/>
<line x1="338.20" y1="594.00" x2="340.80" y2="594.00" stroke="#222" stroke-width="0.8"/>
<text x="335.20" y="596.30" font-size="7.0" text-anchor="end" textLength="4.80" lengthAdjust="spacingAndGlyphs" class="t">15</text>
<line x1="338.20" y1="618.90" x2="340.80" y2="618.90" stroke="#222" stroke-width="0.8"/>
<text x="335.20" y="621.20" font-size="7.0" text-anchor="end" textLength="4.80" lengthAdjust="spacingAndGlyphs" class="t">10</text>
<line x1="338.20" y1="643.40" x2="340.80" y2="643.40" stroke="#222" stroke-width="0.8"/>
<text x="335.20" y="645.70" font-size="7.0" text-anchor="end" textLength="2.40" lengthAdjust="spacingAndGlyphs" class="t">5</text>
<line x1="338.20" y1="668.10" x2="340.80" y2="668.10" stroke="#222" stroke-width="0.8"/>
<text x="335.20" y="670.40" font-size="7.0" text-anchor="end" textLength="2.40" lengthAdjust="spacingAndGlyphs" class="t">0</text>
<line x1="340.30" y1="668.30" x2="370.30" y2="668.30" stroke="#222" stroke-width="1.0"/>
<line x1="355.70" y1="668.30" x2="355.70" y2="671.00" stroke="#222" stroke-width="0.8"/>
<text x="355.90" y="680.40" font-size="7.0" text-anchor="middle" textLength="29.50" lengthAdjust="spacingAndGlyphs" class="t">KITL (SCF)</text>
<text x="323.00" y="629.60" font-size="8.69" text-anchor="middle" textLength="67.80" lengthAdjust="spacingAndGlyphs" transform="rotate(-90 323.00 629.60)" class="t">Concentration (pg/mL)</text>
<text x="355.50" y="603.20" font-size="7.0" text-anchor="middle" textLength="5.00" lengthAdjust="spacingAndGlyphs" class="t">**</text>
<path d="M348.9,608.1 L348.9,604 L362.1,604 L362.1,611.2" stroke="#222" stroke-width="0.8" fill="none"/>
<line x1="348.60" y1="612.00" x2="348.60" y2="665.20" stroke="#4a566e" stroke-width="0.7"/>
<rect x="344.90" y="624.50" width="7.40" height="31.30" fill="#a4aac4" stroke="#4a566e" stroke-width="0.5"/>
<line x1="344.90" y1="639.00" x2="352.30" y2="639.00" stroke="#3a4660" stroke-width="0.9"/>
<circle cx="346.50" cy="612.50" r="1.05" fill="#b8bed4" stroke="#4a566e" stroke-width="0.5"/>
<circle cx="350.50" cy="614.50" r="1.05" fill="#b8bed4" stroke="#4a566e" stroke-width="0.5"/>
<circle cx="347.50" cy="617.00" r="1.05" fill="#b8bed4" stroke="#4a566e" stroke-width="0.5"/>
<circle cx="350.80" cy="618.50" r="1.05" fill="#b8bed4" stroke="#4a566e" stroke-width="0.5"/>
<circle cx="345.80" cy="620.50" r="1.05" fill="#b8bed4" stroke="#4a566e" stroke-width="0.5"/>
<circle cx="349.50" cy="622.00" r="1.05" fill="#b8bed4" stroke="#4a566e" stroke-width="0.5"/>
<circle cx="346.00" cy="627.00" r="1.05" fill="#b8bed4" stroke="#4a566e" stroke-width="0.5"/>
<circle cx="351.00" cy="628.00" r="1.05" fill="#b8bed4" stroke="#4a566e" stroke-width="0.5"/>
<circle cx="348.00" cy="631.00" r="1.05" fill="#b8bed4" stroke="#4a566e" stroke-width="0.5"/>
<circle cx="350.50" cy="634.00" r="1.05" fill="#b8bed4" stroke="#4a566e" stroke-width="0.5"/>
<circle cx="346.50" cy="637.00" r="1.05" fill="#b8bed4" stroke="#4a566e" stroke-width="0.5"/>
<circle cx="351.50" cy="641.00" r="1.05" fill="#b8bed4" stroke="#4a566e" stroke-width="0.5"/>
<circle cx="348.50" cy="644.00" r="1.05" fill="#b8bed4" stroke="#4a566e" stroke-width="0.5"/>
<circle cx="346.00" cy="648.00" r="1.05" fill="#b8bed4" stroke="#4a566e" stroke-width="0.5"/>
<circle cx="350.00" cy="652.00" r="1.05" fill="#b8bed4" stroke="#4a566e" stroke-width="0.5"/>
<circle cx="345.60" cy="660.00" r="1.05" fill="#b8bed4" stroke="#4a566e" stroke-width="0.5"/>
<circle cx="348.50" cy="662.50" r="1.05" fill="#b8bed4" stroke="#4a566e" stroke-width="0.5"/>
<circle cx="351.50" cy="663.50" r="1.05" fill="#b8bed4" stroke="#4a566e" stroke-width="0.5"/>
<circle cx="346.80" cy="664.80" r="1.05" fill="#b8bed4" stroke="#4a566e" stroke-width="0.5"/>
<line x1="362.00" y1="612.00" x2="362.00" y2="653.00" stroke="#9a78a8" stroke-width="0.9"/>
<circle cx="362.00" cy="612.60" r="1.3" fill="#b07cc0" stroke="#5a1e66" stroke-width="0.5"/>
<circle cx="359.60" cy="654.00" r="1.5" fill="#d8b4e0" stroke="#8e3c9c" stroke-width="0.7"/>
<circle cx="362.20" cy="653.00" r="1.5" fill="#d8b4e0" stroke="#8e3c9c" stroke-width="0.7"/>
<circle cx="364.60" cy="654.20" r="1.5" fill="#d8b4e0" stroke="#8e3c9c" stroke-width="0.7"/>
<circle cx="360.00" cy="656.80" r="1.5" fill="#d8b4e0" stroke="#8e3c9c" stroke-width="0.7"/>
<circle cx="364.00" cy="656.80" r="1.5" fill="#d8b4e0" stroke="#8e3c9c" stroke-width="0.7"/>
<circle cx="362.00" cy="659.20" r="1.5" fill="#d8b4e0" stroke="#8e3c9c" stroke-width="0.7"/>
<circle cx="360.20" cy="661.80" r="1.5" fill="#d8b4e0" stroke="#8e3c9c" stroke-width="0.7"/>
<circle cx="363.80" cy="662.00" r="1.5" fill="#d8b4e0" stroke="#8e3c9c" stroke-width="0.7"/>
<circle cx="362.00" cy="664.20" r="1.5" fill="#d8b4e0" stroke="#8e3c9c" stroke-width="0.7"/>
<line x1="415.20" y1="593.10" x2="415.20" y2="668.80" stroke="#222" stroke-width="1.0"/>
<line x1="412.60" y1="595.50" x2="415.20" y2="595.50" stroke="#222" stroke-width="0.8"/>
<text x="409.80" y="597.80" font-size="7.0" text-anchor="end" textLength="17.60" lengthAdjust="spacingAndGlyphs" class="t">20000</text>
<line x1="412.60" y1="613.90" x2="415.20" y2="613.90" stroke="#222" stroke-width="0.8"/>
<text x="409.80" y="616.20" font-size="7.0" text-anchor="end" textLength="17.60" lengthAdjust="spacingAndGlyphs" class="t">15000</text>
<line x1="412.60" y1="632.00" x2="415.20" y2="632.00" stroke="#222" stroke-width="0.8"/>
<text x="409.80" y="634.30" font-size="7.0" text-anchor="end" textLength="17.60" lengthAdjust="spacingAndGlyphs" class="t">10000</text>
<line x1="412.60" y1="650.00" x2="415.20" y2="650.00" stroke="#222" stroke-width="0.8"/>
<text x="409.80" y="652.30" font-size="7.0" text-anchor="end" textLength="13.70" lengthAdjust="spacingAndGlyphs" class="t">5000</text>
<line x1="412.60" y1="668.30" x2="415.20" y2="668.30" stroke="#222" stroke-width="0.8"/>
<text x="409.80" y="670.60" font-size="7.0" text-anchor="end" textLength="3.10" lengthAdjust="spacingAndGlyphs" class="t">0</text>
<line x1="414.70" y1="668.30" x2="445.60" y2="668.30" stroke="#222" stroke-width="1.0"/>
<line x1="430.80" y1="668.30" x2="430.80" y2="671.00" stroke="#222" stroke-width="0.8"/>
<text x="430.80" y="680.20" font-size="7.0" text-anchor="middle" textLength="23.00" lengthAdjust="spacingAndGlyphs" class="t">CXCL12</text>
<text x="386.40" y="631.20" font-size="8.69" text-anchor="middle" textLength="66.50" lengthAdjust="spacingAndGlyphs" transform="rotate(-90 386.40 631.20)" class="t">Concentration (pg/mL)</text>
<text x="430.60" y="598.30" font-size="7.0" text-anchor="middle" textLength="11.00" lengthAdjust="spacingAndGlyphs" class="t">****</text>
<path d="M423.9,602.9 L423.9,598 L437.1,598 L437.1,622.6" stroke="#222" stroke-width="0.8" fill="none"/>
<line x1="424.20" y1="606.50" x2="424.20" y2="624.00" stroke="#4a566e" stroke-width="0.8"/>
<path d="M424.2,605.0 L425.9,606.5 L424.2,608.0 L422.5,606.5 Z" stroke="#4a566e" stroke-width="0.5" fill="#b8c0d4"/>
<circle cx="424.20" cy="615.70" r="1.1" fill="#b8c0d4" stroke="#4a566e" stroke-width="0.5"/>
<path d="M424.2,623.0 C427.5,623.0 428.9,626 428.8,629.5 C428.7,633 427.5,636 426.3,637.5 C427.2,639 426.5,641.5 425.4,642.5 L424.2,645.2 L423.0,642.5 C421.9,641.5 421.2,639 422.1,637.5 C420.9,636 419.7,633 419.6,629.5 C419.5,626 420.9,623.0 424.2,623.0 Z" stroke="#4a566e" stroke-width="0.6" fill="#7a8aa2"/>
<circle cx="422.30" cy="625.00" r="1.1" fill="none" stroke="#c4ccdc" stroke-width="0.45"/>
<circle cx="426.10" cy="625.00" r="1.1" fill="none" stroke="#c4ccdc" stroke-width="0.45"/>
<circle cx="424.20" cy="627.30" r="1.1" fill="none" stroke="#c4ccdc" stroke-width="0.45"/>
<circle cx="421.50" cy="629.20" r="1.1" fill="none" stroke="#c4ccdc" stroke-width="0.45"/>
<circle cx="426.90" cy="629.50" r="1.1" fill="none" stroke="#c4ccdc" stroke-width="0.45"/>
<circle cx="423.20" cy="631.50" r="1.1" fill="none" stroke="#c4ccdc" stroke-width="0.45"/>
<circle cx="425.80" cy="632.80" r="1.1" fill="none" stroke="#c4ccdc" stroke-width="0.45"/>
<circle cx="422.00" cy="634.20" r="1.1" fill="none" stroke="#c4ccdc" stroke-width="0.45"/>
<circle cx="424.80" cy="635.80" r="1.1" fill="none" stroke="#c4ccdc" stroke-width="0.45"/>
<circle cx="423.20" cy="638.60" r="1.1" fill="none" stroke="#c4ccdc" stroke-width="0.45"/>
<circle cx="425.40" cy="640.40" r="1.1" fill="none" stroke="#c4ccdc" stroke-width="0.45"/>
<circle cx="424.20" cy="643.00" r="1.1" fill="none" stroke="#c4ccdc" stroke-width="0.45"/>
<line x1="436.60" y1="626.20" x2="436.60" y2="639.00" stroke="#5a1e66" stroke-width="0.8"/>
<path d="M436.6,624.8 L438.4,626.2 L436.6,627.6 L434.8,626.2 Z" stroke="#5a1e66" stroke-width="0.5" fill="#d8b4e0"/>
<path d="M436.6,638.0 C439.5,639.5 441.3,643 441.2,646.0 C441.1,649 439.5,651.5 437.6,652.6 L436.6,654.0 L435.6,652.6 C433.7,651.5 432.1,649 432.0,646.0 C431.9,643 433.7,639.5 436.6,638.0 Z" stroke="#5a1e66" stroke-width="0.6" fill="#8e3c9c"/>
<path d="M436.6,654.0 L438.4,655.4 L436.6,656.8 L434.8,655.4 Z" stroke="#5a1e66" stroke-width="0.5" fill="#d8b4e0"/>
<circle cx="436.60" cy="640.50" r="1.1" fill="none" stroke="#dcb0e4" stroke-width="0.45"/>
<circle cx="434.60" cy="643.00" r="1.1" fill="none" stroke="#dcb0e4" stroke-width="0.45"/>
<circle cx="438.60" cy="643.00" r="1.1" fill="none" stroke="#dcb0e4" stroke-width="0.45"/>
<circle cx="436.60" cy="645.50" r="1.1" fill="none" stroke="#dcb0e4" stroke-width="0.45"/>
<circle cx="434.00" cy="647.00" r="1.1" fill="none" stroke="#dcb0e4" stroke-width="0.45"/>
<circle cx="439.20" cy="647.00" r="1.1" fill="none" stroke="#dcb0e4" stroke-width="0.45"/>
<circle cx="436.00" cy="649.50" r="1.1" fill="none" stroke="#dcb0e4" stroke-width="0.45"/>
<circle cx="438.20" cy="650.20" r="1.1" fill="none" stroke="#dcb0e4" stroke-width="0.45"/>
<circle cx="436.60" cy="652.30" r="1.1" fill="none" stroke="#dcb0e4" stroke-width="0.45"/>
<rect x="448.70" y="622.70" width="5.70" height="5.20" fill="#434f6b"/>
<text x="457.90" y="627.60" font-size="7.84" textLength="36.30" lengthAdjust="spacingAndGlyphs" class="t">Control MSC</text>
<rect x="448.70" y="632.50" width="5.70" height="5.20" fill="#4c1c5e"/>
<text x="457.9" y="637.2" font-size="7.84" fill="#333" textLength="35.2" lengthAdjust="spacingAndGlyphs"><tspan font-style="italic">Igf1</tspan>–/– MSC</text>
</g>
<rect x="0" y="0" width="520" height="1" fill="#5a5a5a"/>
<rect x="0" y="0" width="1" height="688" fill="#4e4e4e"/>
<rect x="1" y="1" width="0.4" height="686" fill="#999"/>
<rect x="519" y="0" width="1" height="688" fill="#444"/>
<rect x="0" y="687" width="520" height="1" fill="#2a2a2a"/>
<rect x="0" y="686.4" width="520" height="0.6" fill="#666"/>
</svg></body></html>
